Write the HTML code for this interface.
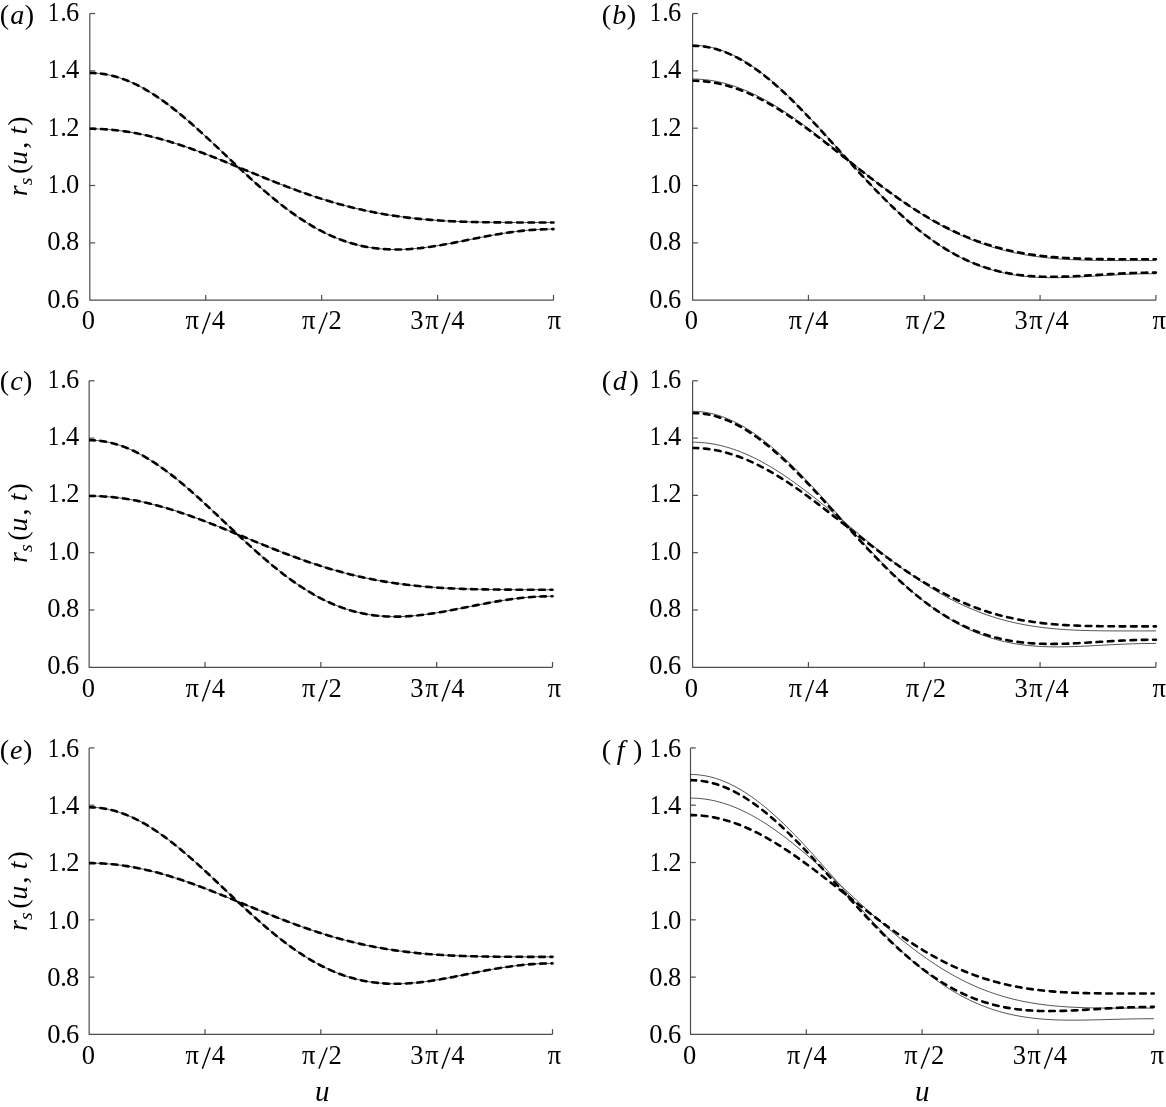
<!DOCTYPE html>
<html><head><meta charset="utf-8"><style>
html,body{margin:0;padding:0;background:#fff;overflow:hidden;}
svg{display:block;will-change:transform;}
text{font-family:"Liberation Serif",serif;fill:#000;}
</style></head><body>
<svg width="1166" height="1107" viewBox="0 0 1166 1107">
<rect width="1166" height="1107" fill="#fff"/>
<path d="M89.8,13.5 V300.2 H553.5" fill="none" stroke="#4d4d4d" stroke-width="1.2" stroke-linejoin="round"/>
<path d="M89.8,13.50 h5.3" stroke="#4d4d4d" stroke-width="1.2"/>
<path d="M89.8,70.84 h5.3" stroke="#4d4d4d" stroke-width="1.2"/>
<path d="M89.8,128.18 h5.3" stroke="#4d4d4d" stroke-width="1.2"/>
<path d="M89.8,185.52 h5.3" stroke="#4d4d4d" stroke-width="1.2"/>
<path d="M89.8,242.86 h5.3" stroke="#4d4d4d" stroke-width="1.2"/>
<path d="M205.72,300.2 v-5.3" stroke="#4d4d4d" stroke-width="1.2"/>
<path d="M321.65,300.2 v-5.3" stroke="#4d4d4d" stroke-width="1.2"/>
<path d="M437.57,300.2 v-5.3" stroke="#4d4d4d" stroke-width="1.2"/>
<path d="M553.50,300.2 v-5.3" stroke="#4d4d4d" stroke-width="1.2"/>
<text x="46.95" y="21.10" font-size="26.5" transform="translate(53.95,0) scale(0.84,1) translate(-53.95,0)">1</text>
<text x="60.19" y="21.10" font-size="26.5">.</text>
<text x="65.95" y="21.10" font-size="26.5">6</text>
<text x="46.95" y="78.44" font-size="26.5" transform="translate(53.95,0) scale(0.84,1) translate(-53.95,0)">1</text>
<text x="60.19" y="78.44" font-size="26.5">.</text>
<text x="66.07" y="78.44" font-size="26.5">4</text>
<text x="46.95" y="135.78" font-size="26.5" transform="translate(53.95,0) scale(0.84,1) translate(-53.95,0)">1</text>
<text x="60.19" y="135.78" font-size="26.5">.</text>
<text x="66.27" y="135.78" font-size="26.5">2</text>
<text x="46.95" y="193.12" font-size="26.5" transform="translate(53.95,0) scale(0.84,1) translate(-53.95,0)">1</text>
<text x="60.19" y="193.12" font-size="26.5">.</text>
<text x="66.12" y="193.12" font-size="26.5">0</text>
<text x="47.33" y="250.46" font-size="26.5">0</text>
<text x="60.19" y="250.46" font-size="26.5">.</text>
<text x="66.12" y="250.46" font-size="26.5">8</text>
<text x="47.33" y="307.80" font-size="26.5">0</text>
<text x="60.19" y="307.80" font-size="26.5">.</text>
<text x="65.95" y="307.80" font-size="26.5">6</text>
<text x="81.67" y="329.30" font-size="26.5">0</text>
<text x="185.52" y="329.30" font-size="26.5">π</text>
<path d="M202.35,333.75 L210.15,312.45" stroke="#000" stroke-width="1.45" fill="none"/>
<text x="211.82" y="329.30" font-size="26.5">4</text>
<text x="302.07" y="329.30" font-size="26.5">π</text>
<path d="M318.85,333.75 L327.15,312.45" stroke="#000" stroke-width="1.45" fill="none"/>
<text x="328.62" y="329.30" font-size="26.5">2</text>
<text x="410.26" y="329.30" font-size="26.5">3</text>
<text x="425.17" y="329.30" font-size="26.5">π</text>
<path d="M441.95,333.75 L449.95,312.45" stroke="#000" stroke-width="1.45" fill="none"/>
<text x="451.27" y="329.30" font-size="26.5">4</text>
<text x="547.82" y="329.30" font-size="26.5">π</text>
<text x="-0.24" y="23.8" font-size="28.1">(</text>
<text x="10.14" y="23.80" font-size="28.1" font-style="italic">a</text>
<text x="24.70" y="23.8" font-size="28.1">)</text>
<clipPath id="c1"><rect x="89.80" y="3.50" width="467.70" height="306.70"/></clipPath><g clip-path="url(#c1)">
<path d="M89.80,72.91 92.72,72.96 95.63,73.10 98.55,73.34 101.47,73.67 104.38,74.09 107.30,74.61 110.21,75.22 113.13,75.92 116.05,76.71 118.96,77.59 121.88,78.56 124.80,79.62 127.71,80.76 130.63,81.99 133.55,83.31 136.46,84.70 139.38,86.18 142.29,87.73 145.21,89.36 148.13,91.07 151.04,92.85 153.96,94.70 156.88,96.61 159.79,98.60 162.71,100.64 165.63,102.75 168.54,104.92 171.46,107.14 174.37,109.42 177.29,111.75 180.21,114.12 183.12,116.54 186.04,119.01 188.96,121.51 191.87,124.05 194.79,126.63 197.71,129.24 200.62,131.87 203.54,134.53 206.45,137.22 209.37,139.92 212.29,142.64 215.20,145.37 218.12,148.12 221.04,150.87 223.95,153.62 226.87,156.38 229.78,159.14 232.70,161.89 235.62,164.64 238.53,167.38 241.45,170.10 244.37,172.81 247.28,175.50 250.20,178.17 253.12,180.82 256.03,183.44 258.95,186.04 261.86,188.60 264.78,191.13 267.70,193.63 270.61,196.09 273.53,198.51 276.45,200.88 279.36,203.22 282.28,205.51 285.20,207.75 288.11,209.94 291.03,212.09 293.94,214.18 296.86,216.22 299.78,218.20 302.69,220.12 305.61,221.99 308.53,223.80 311.44,225.56 314.36,227.25 317.28,228.88 320.19,230.45 323.11,231.95 326.02,233.40 328.94,234.78 331.86,236.09 334.77,237.35 337.69,238.53 340.61,239.66 343.52,240.72 346.44,241.72 349.36,242.65 352.27,243.52 355.19,244.33 358.10,245.08 361.02,245.76 363.94,246.39 366.85,246.95 369.77,247.46 372.69,247.90 375.60,248.29 378.52,248.63 381.44,248.91 384.35,249.13 387.27,249.30 390.18,249.43 393.10,249.50 396.02,249.53 398.93,249.50 401.85,249.44 404.77,249.33 407.68,249.18 410.60,248.99 413.52,248.76 416.43,248.49 419.35,248.19 422.26,247.86 425.18,247.50 428.10,247.11 431.01,246.69 433.93,246.25 436.85,245.79 439.76,245.30 442.68,244.80 445.59,244.27 448.51,243.74 451.43,243.19 454.34,242.63 457.26,242.06 460.18,241.49 463.09,240.91 466.01,240.32 468.93,239.74 471.84,239.15 474.76,238.57 477.67,237.99 480.59,237.42 483.51,236.86 486.42,236.30 489.34,235.76 492.26,235.23 495.17,234.71 498.09,234.21 501.01,233.72 503.92,233.25 506.84,232.81 509.75,232.38 512.67,231.98 515.59,231.59 518.50,231.24 521.42,230.90 524.34,230.60 527.25,230.32 530.17,230.06 533.09,229.84 536.00,229.64 538.92,229.48 541.83,229.34 544.75,229.23 547.67,229.16 550.58,229.11 553.50,229.10" fill="none" stroke="#333" stroke-width="0.85"/>
<path d="M89.80,128.76 92.72,128.78 95.63,128.84 98.55,128.93 101.47,129.05 104.38,129.22 107.30,129.42 110.21,129.65 113.13,129.92 116.05,130.23 118.96,130.57 121.88,130.95 124.80,131.36 127.71,131.80 130.63,132.28 133.55,132.79 136.46,133.33 139.38,133.91 142.29,134.51 145.21,135.15 148.13,135.82 151.04,136.52 153.96,137.24 156.88,138.00 159.79,138.78 162.71,139.59 165.63,140.43 168.54,141.29 171.46,142.17 174.37,143.08 177.29,144.01 180.21,144.96 183.12,145.94 186.04,146.93 188.96,147.95 191.87,148.98 194.79,150.03 197.71,151.10 200.62,152.18 203.54,153.28 206.45,154.39 209.37,155.51 212.29,156.64 215.20,157.79 218.12,158.94 221.04,160.11 223.95,161.28 226.87,162.46 229.78,163.64 232.70,164.83 235.62,166.02 238.53,167.22 241.45,168.42 244.37,169.61 247.28,170.81 250.20,172.01 253.12,173.21 256.03,174.40 258.95,175.59 261.86,176.77 264.78,177.95 267.70,179.13 270.61,180.29 273.53,181.45 276.45,182.60 279.36,183.75 282.28,184.88 285.20,186.00 288.11,187.11 291.03,188.20 293.94,189.29 296.86,190.36 299.78,191.41 302.69,192.45 305.61,193.48 308.53,194.49 311.44,195.49 314.36,196.46 317.28,197.43 320.19,198.37 323.11,199.29 326.02,200.20 328.94,201.09 331.86,201.96 334.77,202.81 337.69,203.64 340.61,204.45 343.52,205.24 346.44,206.02 349.36,206.77 352.27,207.50 355.19,208.21 358.10,208.90 361.02,209.57 363.94,210.22 366.85,210.85 369.77,211.46 372.69,212.05 375.60,212.62 378.52,213.17 381.44,213.70 384.35,214.21 387.27,214.70 390.18,215.17 393.10,215.62 396.02,216.05 398.93,216.47 401.85,216.86 404.77,217.24 407.68,217.60 410.60,217.95 413.52,218.28 416.43,218.59 419.35,218.88 422.26,219.16 425.18,219.42 428.10,219.67 431.01,219.91 433.93,220.13 436.85,220.34 439.76,220.53 442.68,220.71 445.59,220.88 448.51,221.04 451.43,221.19 454.34,221.33 457.26,221.45 460.18,221.57 463.09,221.68 466.01,221.77 468.93,221.86 471.84,221.95 474.76,222.02 477.67,222.09 480.59,222.15 483.51,222.21 486.42,222.25 489.34,222.30 492.26,222.34 495.17,222.37 498.09,222.40 501.01,222.43 503.92,222.45 506.84,222.47 509.75,222.49 512.67,222.50 515.59,222.51 518.50,222.52 521.42,222.53 524.34,222.54 527.25,222.54 530.17,222.55 533.09,222.55 536.00,222.55 538.92,222.56 541.83,222.56 544.75,222.56 547.67,222.56 550.58,222.56 553.50,222.56" fill="none" stroke="#333" stroke-width="0.85"/>
<path d="M89.80,72.91 92.72,72.96 95.63,73.10 98.55,73.34 101.47,73.67 104.38,74.09 107.30,74.61 110.21,75.22 113.13,75.92 116.05,76.71 118.96,77.59 121.88,78.56 124.80,79.62 127.71,80.76 130.63,81.99 133.55,83.31 136.46,84.70 139.38,86.18 142.29,87.73 145.21,89.36 148.13,91.07 151.04,92.85 153.96,94.70 156.88,96.61 159.79,98.60 162.71,100.64 165.63,102.75 168.54,104.92 171.46,107.14 174.37,109.42 177.29,111.75 180.21,114.12 183.12,116.54 186.04,119.01 188.96,121.51 191.87,124.05 194.79,126.63 197.71,129.24 200.62,131.87 203.54,134.53 206.45,137.22 209.37,139.92 212.29,142.64 215.20,145.37 218.12,148.12 221.04,150.87 223.95,153.62 226.87,156.38 229.78,159.14 232.70,161.89 235.62,164.64 238.53,167.38 241.45,170.10 244.37,172.81 247.28,175.50 250.20,178.17 253.12,180.82 256.03,183.44 258.95,186.04 261.86,188.60 264.78,191.13 267.70,193.63 270.61,196.09 273.53,198.51 276.45,200.88 279.36,203.22 282.28,205.51 285.20,207.75 288.11,209.94 291.03,212.09 293.94,214.18 296.86,216.22 299.78,218.20 302.69,220.12 305.61,221.99 308.53,223.80 311.44,225.56 314.36,227.25 317.28,228.88 320.19,230.45 323.11,231.95 326.02,233.40 328.94,234.78 331.86,236.09 334.77,237.35 337.69,238.53 340.61,239.66 343.52,240.72 346.44,241.72 349.36,242.65 352.27,243.52 355.19,244.33 358.10,245.08 361.02,245.76 363.94,246.39 366.85,246.95 369.77,247.46 372.69,247.90 375.60,248.29 378.52,248.63 381.44,248.91 384.35,249.13 387.27,249.30 390.18,249.43 393.10,249.50 396.02,249.53 398.93,249.50 401.85,249.44 404.77,249.33 407.68,249.18 410.60,248.99 413.52,248.76 416.43,248.49 419.35,248.19 422.26,247.86 425.18,247.50 428.10,247.11 431.01,246.69 433.93,246.25 436.85,245.79 439.76,245.30 442.68,244.80 445.59,244.27 448.51,243.74 451.43,243.19 454.34,242.63 457.26,242.06 460.18,241.49 463.09,240.91 466.01,240.32 468.93,239.74 471.84,239.15 474.76,238.57 477.67,237.99 480.59,237.42 483.51,236.86 486.42,236.30 489.34,235.76 492.26,235.23 495.17,234.71 498.09,234.21 501.01,233.72 503.92,233.25 506.84,232.81 509.75,232.38 512.67,231.98 515.59,231.59 518.50,231.24 521.42,230.90 524.34,230.60 527.25,230.32 530.17,230.06 533.09,229.84 536.00,229.64 538.92,229.48 541.83,229.34 544.75,229.23 547.67,229.16 550.58,229.11 553.50,229.10" fill="none" stroke="#000" stroke-width="2.6" stroke-dasharray="5.6 5.72" stroke-linecap="round"/>
<path d="M89.80,128.76 92.72,128.78 95.63,128.84 98.55,128.93 101.47,129.05 104.38,129.22 107.30,129.42 110.21,129.65 113.13,129.92 116.05,130.23 118.96,130.57 121.88,130.95 124.80,131.36 127.71,131.80 130.63,132.28 133.55,132.79 136.46,133.33 139.38,133.91 142.29,134.51 145.21,135.15 148.13,135.82 151.04,136.52 153.96,137.24 156.88,138.00 159.79,138.78 162.71,139.59 165.63,140.43 168.54,141.29 171.46,142.17 174.37,143.08 177.29,144.01 180.21,144.96 183.12,145.94 186.04,146.93 188.96,147.95 191.87,148.98 194.79,150.03 197.71,151.10 200.62,152.18 203.54,153.28 206.45,154.39 209.37,155.51 212.29,156.64 215.20,157.79 218.12,158.94 221.04,160.11 223.95,161.28 226.87,162.46 229.78,163.64 232.70,164.83 235.62,166.02 238.53,167.22 241.45,168.42 244.37,169.61 247.28,170.81 250.20,172.01 253.12,173.21 256.03,174.40 258.95,175.59 261.86,176.77 264.78,177.95 267.70,179.13 270.61,180.29 273.53,181.45 276.45,182.60 279.36,183.75 282.28,184.88 285.20,186.00 288.11,187.11 291.03,188.20 293.94,189.29 296.86,190.36 299.78,191.41 302.69,192.45 305.61,193.48 308.53,194.49 311.44,195.49 314.36,196.46 317.28,197.43 320.19,198.37 323.11,199.29 326.02,200.20 328.94,201.09 331.86,201.96 334.77,202.81 337.69,203.64 340.61,204.45 343.52,205.24 346.44,206.02 349.36,206.77 352.27,207.50 355.19,208.21 358.10,208.90 361.02,209.57 363.94,210.22 366.85,210.85 369.77,211.46 372.69,212.05 375.60,212.62 378.52,213.17 381.44,213.70 384.35,214.21 387.27,214.70 390.18,215.17 393.10,215.62 396.02,216.05 398.93,216.47 401.85,216.86 404.77,217.24 407.68,217.60 410.60,217.95 413.52,218.28 416.43,218.59 419.35,218.88 422.26,219.16 425.18,219.42 428.10,219.67 431.01,219.91 433.93,220.13 436.85,220.34 439.76,220.53 442.68,220.71 445.59,220.88 448.51,221.04 451.43,221.19 454.34,221.33 457.26,221.45 460.18,221.57 463.09,221.68 466.01,221.77 468.93,221.86 471.84,221.95 474.76,222.02 477.67,222.09 480.59,222.15 483.51,222.21 486.42,222.25 489.34,222.30 492.26,222.34 495.17,222.37 498.09,222.40 501.01,222.43 503.92,222.45 506.84,222.47 509.75,222.49 512.67,222.50 515.59,222.51 518.50,222.52 521.42,222.53 524.34,222.54 527.25,222.54 530.17,222.55 533.09,222.55 536.00,222.55 538.92,222.56 541.83,222.56 544.75,222.56 547.67,222.56 550.58,222.56 553.50,222.56" fill="none" stroke="#000" stroke-width="2.6" stroke-dasharray="5.6 5.72" stroke-linecap="round"/>
</g>
<path d="M692.6,13.5 V300.2 H1155.9" fill="none" stroke="#4d4d4d" stroke-width="1.2" stroke-linejoin="round"/>
<path d="M692.6,13.50 h5.3" stroke="#4d4d4d" stroke-width="1.2"/>
<path d="M692.6,70.84 h5.3" stroke="#4d4d4d" stroke-width="1.2"/>
<path d="M692.6,128.18 h5.3" stroke="#4d4d4d" stroke-width="1.2"/>
<path d="M692.6,185.52 h5.3" stroke="#4d4d4d" stroke-width="1.2"/>
<path d="M692.6,242.86 h5.3" stroke="#4d4d4d" stroke-width="1.2"/>
<path d="M808.43,300.2 v-5.3" stroke="#4d4d4d" stroke-width="1.2"/>
<path d="M924.25,300.2 v-5.3" stroke="#4d4d4d" stroke-width="1.2"/>
<path d="M1040.08,300.2 v-5.3" stroke="#4d4d4d" stroke-width="1.2"/>
<path d="M1155.90,300.2 v-5.3" stroke="#4d4d4d" stroke-width="1.2"/>
<text x="648.95" y="21.10" font-size="26.5" transform="translate(655.95,0) scale(0.84,1) translate(-655.95,0)">1</text>
<text x="662.19" y="21.10" font-size="26.5">.</text>
<text x="667.95" y="21.10" font-size="26.5">6</text>
<text x="648.95" y="78.44" font-size="26.5" transform="translate(655.95,0) scale(0.84,1) translate(-655.95,0)">1</text>
<text x="662.19" y="78.44" font-size="26.5">.</text>
<text x="668.07" y="78.44" font-size="26.5">4</text>
<text x="648.95" y="135.78" font-size="26.5" transform="translate(655.95,0) scale(0.84,1) translate(-655.95,0)">1</text>
<text x="662.19" y="135.78" font-size="26.5">.</text>
<text x="668.27" y="135.78" font-size="26.5">2</text>
<text x="648.95" y="193.12" font-size="26.5" transform="translate(655.95,0) scale(0.84,1) translate(-655.95,0)">1</text>
<text x="662.19" y="193.12" font-size="26.5">.</text>
<text x="668.12" y="193.12" font-size="26.5">0</text>
<text x="649.33" y="250.46" font-size="26.5">0</text>
<text x="662.19" y="250.46" font-size="26.5">.</text>
<text x="668.12" y="250.46" font-size="26.5">8</text>
<text x="649.33" y="307.80" font-size="26.5">0</text>
<text x="662.19" y="307.80" font-size="26.5">.</text>
<text x="667.95" y="307.80" font-size="26.5">6</text>
<text x="684.77" y="329.30" font-size="26.5">0</text>
<text x="788.87" y="329.30" font-size="26.5">π</text>
<path d="M805.70,333.75 L813.50,312.45" stroke="#000" stroke-width="1.45" fill="none"/>
<text x="815.17" y="329.30" font-size="26.5">4</text>
<text x="906.12" y="329.30" font-size="26.5">π</text>
<path d="M922.90,333.75 L931.20,312.45" stroke="#000" stroke-width="1.45" fill="none"/>
<text x="932.67" y="329.30" font-size="26.5">2</text>
<text x="1014.46" y="329.30" font-size="26.5">3</text>
<text x="1029.37" y="329.30" font-size="26.5">π</text>
<path d="M1046.15,333.75 L1054.15,312.45" stroke="#000" stroke-width="1.45" fill="none"/>
<text x="1055.47" y="329.30" font-size="26.5">4</text>
<text x="1152.62" y="329.30" font-size="26.5">π</text>
<text x="601.66" y="23.8" font-size="28.1">(</text>
<text x="612.18" y="23.80" font-size="28.1" font-style="italic">b</text>
<text x="626.70" y="23.8" font-size="28.1">)</text>
<clipPath id="c2"><rect x="692.60" y="3.50" width="467.30" height="306.70"/></clipPath><g clip-path="url(#c2)">
<path d="M692.60,45.27 695.51,45.32 698.43,45.47 701.34,45.73 704.26,46.09 707.17,46.56 710.08,47.12 713.00,47.79 715.91,48.56 718.82,49.43 721.74,50.40 724.65,51.46 727.57,52.62 730.48,53.88 733.39,55.23 736.31,56.68 739.22,58.22 742.14,59.84 745.05,61.56 747.96,63.36 750.88,65.24 753.79,67.21 756.70,69.26 759.62,71.38 762.53,73.59 765.45,75.86 768.36,78.21 771.27,80.62 774.19,83.11 777.10,85.65 780.02,88.26 782.93,90.93 785.84,93.65 788.76,96.43 791.67,99.25 794.58,102.13 797.50,105.05 800.41,108.01 803.33,111.01 806.24,114.05 809.15,117.12 812.07,120.22 814.98,123.35 817.89,126.50 820.81,129.67 823.72,132.86 826.64,136.07 829.55,139.29 832.46,142.52 835.38,145.76 838.29,149.00 841.21,152.24 844.12,155.48 847.03,158.71 849.95,161.94 852.86,165.16 855.77,168.36 858.69,171.55 861.60,174.72 864.52,177.87 867.43,181.00 870.34,184.10 873.26,187.17 876.17,190.21 879.09,193.22 882.00,196.20 884.91,199.14 887.83,202.04 890.74,204.89 893.65,207.71 896.57,210.48 899.48,213.20 902.40,215.88 905.31,218.51 908.22,221.08 911.14,223.61 914.05,226.08 916.97,228.49 919.88,230.85 922.79,233.15 925.71,235.40 928.62,237.58 931.53,239.71 934.45,241.77 937.36,243.78 940.28,245.72 943.19,247.60 946.10,249.42 949.02,251.18 951.93,252.88 954.85,254.51 957.76,256.08 960.67,257.59 963.59,259.04 966.50,260.42 969.41,261.74 972.33,263.01 975.24,264.21 978.16,265.35 981.07,266.44 983.98,267.47 986.90,268.43 989.81,269.35 992.73,270.20 995.64,271.01 998.55,271.76 1001.47,272.45 1004.38,273.10 1007.29,273.70 1010.21,274.25 1013.12,274.75 1016.04,275.21 1018.95,275.62 1021.86,275.99 1024.78,276.32 1027.69,276.60 1030.61,276.86 1033.52,277.07 1036.43,277.25 1039.35,277.40 1042.26,277.51 1045.17,277.60 1048.09,277.65 1051.00,277.68 1053.92,277.69 1056.83,277.67 1059.74,277.63 1062.66,277.57 1065.57,277.50 1068.48,277.40 1071.40,277.30 1074.31,277.17 1077.23,277.04 1080.14,276.90 1083.05,276.75 1085.97,276.59 1088.88,276.42 1091.80,276.25 1094.71,276.08 1097.62,275.91 1100.54,275.74 1103.45,275.56 1106.36,275.39 1109.28,275.23 1112.19,275.06 1115.11,274.91 1118.02,274.76 1120.93,274.61 1123.85,274.48 1126.76,274.35 1129.68,274.24 1132.59,274.13 1135.50,274.04 1138.42,273.95 1141.33,273.88 1144.24,273.82 1147.16,273.78 1150.07,273.74 1152.99,273.72 1155.90,273.72" fill="none" stroke="#333" stroke-width="0.85"/>
<path d="M692.60,79.02 695.51,79.06 698.43,79.16 701.34,79.34 704.26,79.59 707.17,79.91 710.08,80.30 713.00,80.76 715.91,81.28 718.82,81.88 721.74,82.55 724.65,83.28 727.57,84.08 730.48,84.94 733.39,85.88 736.31,86.87 739.22,87.93 742.14,89.05 745.05,90.24 747.96,91.48 750.88,92.78 753.79,94.14 756.70,95.56 759.62,97.03 762.53,98.56 765.45,100.13 768.36,101.76 771.27,103.44 774.19,105.17 777.10,106.94 780.02,108.76 782.93,110.62 785.84,112.52 788.76,114.46 791.67,116.44 794.58,118.45 797.50,120.50 800.41,122.58 803.33,124.69 806.24,126.83 809.15,129.00 812.07,131.19 814.98,133.41 817.89,135.64 820.81,137.90 823.72,140.17 826.64,142.45 829.55,144.75 832.46,147.06 835.38,149.38 838.29,151.71 841.21,154.05 844.12,156.38 847.03,158.72 849.95,161.06 852.86,163.40 855.77,165.73 858.69,168.06 861.60,170.38 864.52,172.70 867.43,175.00 870.34,177.29 873.26,179.56 876.17,181.83 879.09,184.07 882.00,186.29 884.91,188.50 887.83,190.68 890.74,192.85 893.65,194.98 896.57,197.10 899.48,199.18 902.40,201.24 905.31,203.27 908.22,205.27 911.14,207.24 914.05,209.17 916.97,211.07 919.88,212.94 922.79,214.78 925.71,216.58 928.62,218.34 931.53,220.07 934.45,221.75 937.36,223.41 940.28,225.02 943.19,226.59 946.10,228.12 949.02,229.62 951.93,231.07 954.85,232.49 957.76,233.86 960.67,235.20 963.59,236.49 966.50,237.74 969.41,238.95 972.33,240.13 975.24,241.26 978.16,242.35 981.07,243.41 983.98,244.42 986.90,245.40 989.81,246.33 992.73,247.23 995.64,248.09 998.55,248.92 1001.47,249.70 1004.38,250.45 1007.29,251.17 1010.21,251.85 1013.12,252.50 1016.04,253.11 1018.95,253.70 1021.86,254.25 1024.78,254.77 1027.69,255.26 1030.61,255.72 1033.52,256.15 1036.43,256.56 1039.35,256.94 1042.26,257.29 1045.17,257.62 1048.09,257.93 1051.00,258.21 1053.92,258.47 1056.83,258.71 1059.74,258.93 1062.66,259.13 1065.57,259.32 1068.48,259.48 1071.40,259.63 1074.31,259.77 1077.23,259.89 1080.14,260.00 1083.05,260.10 1085.97,260.18 1088.88,260.25 1091.80,260.32 1094.71,260.37 1097.62,260.42 1100.54,260.46 1103.45,260.49 1106.36,260.52 1109.28,260.54 1112.19,260.56 1115.11,260.57 1118.02,260.58 1120.93,260.59 1123.85,260.59 1126.76,260.59 1129.68,260.59 1132.59,260.59 1135.50,260.59 1138.42,260.59 1141.33,260.59 1144.24,260.59 1147.16,260.58 1150.07,260.58 1152.99,260.58 1155.90,260.58" fill="none" stroke="#333" stroke-width="0.85"/>
<path d="M692.60,45.77 695.51,45.83 698.43,45.98 701.34,46.24 704.26,46.60 707.17,47.07 710.08,47.63 713.00,48.30 715.91,49.07 718.82,49.94 721.74,50.91 724.65,51.98 727.57,53.14 730.48,54.40 733.39,55.76 736.31,57.20 739.22,58.74 742.14,60.37 745.05,62.08 747.96,63.89 750.88,65.77 753.79,67.74 756.70,69.79 759.62,71.92 762.53,74.12 765.45,76.40 768.36,78.75 771.27,81.17 774.19,83.65 777.10,86.20 780.02,88.80 782.93,91.47 785.84,94.19 788.76,96.97 791.67,99.80 794.58,102.67 797.50,105.59 800.41,108.55 803.33,111.55 806.24,114.58 809.15,117.65 812.07,120.74 814.98,123.87 817.89,127.02 820.81,130.19 823.72,133.37 826.64,136.58 829.55,139.79 832.46,143.01 835.38,146.24 838.29,149.48 841.21,152.71 844.12,155.94 847.03,159.17 849.95,162.38 852.86,165.59 855.77,168.78 858.69,171.96 861.60,175.12 864.52,178.26 867.43,181.37 870.34,184.46 873.26,187.51 876.17,190.54 879.09,193.54 882.00,196.50 884.91,199.42 887.83,202.30 890.74,205.14 893.65,207.94 896.57,210.69 899.48,213.40 902.40,216.05 905.31,218.66 908.22,221.22 911.14,223.72 914.05,226.17 916.97,228.57 919.88,230.90 922.79,233.18 925.71,235.41 928.62,237.57 931.53,239.67 934.45,241.72 937.36,243.70 940.28,245.62 943.19,247.48 946.10,249.28 949.02,251.01 951.93,252.68 954.85,254.29 957.76,255.84 960.67,257.33 963.59,258.75 966.50,260.11 969.41,261.42 972.33,262.66 975.24,263.84 978.16,264.96 981.07,266.02 983.98,267.02 986.90,267.97 989.81,268.86 992.73,269.70 995.64,270.48 998.55,271.21 1001.47,271.88 1004.38,272.51 1007.29,273.09 1010.21,273.62 1013.12,274.10 1016.04,274.54 1018.95,274.93 1021.86,275.28 1024.78,275.59 1027.69,275.86 1030.61,276.10 1033.52,276.29 1036.43,276.46 1039.35,276.59 1042.26,276.69 1045.17,276.76 1048.09,276.80 1051.00,276.82 1053.92,276.81 1056.83,276.78 1059.74,276.72 1062.66,276.65 1065.57,276.56 1068.48,276.46 1071.40,276.34 1074.31,276.21 1077.23,276.06 1080.14,275.91 1083.05,275.75 1085.97,275.58 1088.88,275.41 1091.80,275.23 1094.71,275.05 1097.62,274.87 1100.54,274.69 1103.45,274.51 1106.36,274.33 1109.28,274.16 1112.19,273.99 1115.11,273.83 1118.02,273.67 1120.93,273.53 1123.85,273.39 1126.76,273.26 1129.68,273.14 1132.59,273.03 1135.50,272.93 1138.42,272.85 1141.33,272.77 1144.24,272.71 1147.16,272.67 1150.07,272.63 1152.99,272.61 1155.90,272.60" fill="none" stroke="#000" stroke-width="2.6" stroke-dasharray="5.6 5.72" stroke-linecap="round"/>
<path d="M692.60,80.77 695.51,80.80 698.43,80.91 701.34,81.08 704.26,81.33 707.17,81.65 710.08,82.03 713.00,82.48 715.91,83.01 718.82,83.60 721.74,84.26 724.65,84.98 727.57,85.77 730.48,86.63 733.39,87.55 736.31,88.53 739.22,89.58 742.14,90.69 745.05,91.86 747.96,93.09 750.88,94.38 753.79,95.72 756.70,97.12 759.62,98.58 762.53,100.09 765.45,101.65 768.36,103.26 771.27,104.92 774.19,106.62 777.10,108.37 780.02,110.17 782.93,112.00 785.84,113.88 788.76,115.80 791.67,117.75 794.58,119.74 797.50,121.76 800.41,123.82 803.33,125.90 806.24,128.01 809.15,130.15 812.07,132.31 814.98,134.49 817.89,136.70 820.81,138.92 823.72,141.16 826.64,143.41 829.55,145.68 832.46,147.95 835.38,150.24 838.29,152.53 841.21,154.83 844.12,157.13 847.03,159.43 849.95,161.73 852.86,164.03 855.77,166.33 858.69,168.62 861.60,170.90 864.52,173.18 867.43,175.44 870.34,177.69 873.26,179.93 876.17,182.15 879.09,184.35 882.00,186.54 884.91,188.70 887.83,190.85 890.74,192.97 893.65,195.07 896.57,197.14 899.48,199.19 902.40,201.20 905.31,203.19 908.22,205.15 911.14,207.08 914.05,208.98 916.97,210.84 919.88,212.67 922.79,214.47 925.71,216.23 928.62,217.96 931.53,219.64 934.45,221.30 937.36,222.91 940.28,224.49 943.19,226.03 946.10,227.53 949.02,228.99 951.93,230.41 954.85,231.79 957.76,233.13 960.67,234.44 963.59,235.70 966.50,236.92 969.41,238.11 972.33,239.25 975.24,240.36 978.16,241.42 981.07,242.45 983.98,243.44 986.90,244.39 989.81,245.31 992.73,246.18 995.64,247.02 998.55,247.82 1001.47,248.59 1004.38,249.33 1007.29,250.02 1010.21,250.69 1013.12,251.32 1016.04,251.92 1018.95,252.49 1021.86,253.02 1024.78,253.53 1027.69,254.01 1030.61,254.46 1033.52,254.88 1036.43,255.27 1039.35,255.64 1042.26,255.99 1045.17,256.31 1048.09,256.61 1051.00,256.88 1053.92,257.14 1056.83,257.37 1059.74,257.59 1062.66,257.78 1065.57,257.96 1068.48,258.12 1071.40,258.27 1074.31,258.40 1077.23,258.52 1080.14,258.63 1083.05,258.72 1085.97,258.81 1088.88,258.88 1091.80,258.94 1094.71,259.00 1097.62,259.04 1100.54,259.08 1103.45,259.12 1106.36,259.14 1109.28,259.16 1112.19,259.18 1115.11,259.19 1118.02,259.20 1120.93,259.21 1123.85,259.21 1126.76,259.22 1129.68,259.22 1132.59,259.22 1135.50,259.22 1138.42,259.21 1141.33,259.21 1144.24,259.21 1147.16,259.21 1150.07,259.21 1152.99,259.21 1155.90,259.21" fill="none" stroke="#000" stroke-width="2.6" stroke-dasharray="5.6 5.72" stroke-linecap="round"/>
</g>
<path d="M89.15,380.8 V667.3 H552.5" fill="none" stroke="#4d4d4d" stroke-width="1.2" stroke-linejoin="round"/>
<path d="M89.15,380.80 h5.3" stroke="#4d4d4d" stroke-width="1.2"/>
<path d="M89.15,438.10 h5.3" stroke="#4d4d4d" stroke-width="1.2"/>
<path d="M89.15,495.40 h5.3" stroke="#4d4d4d" stroke-width="1.2"/>
<path d="M89.15,552.70 h5.3" stroke="#4d4d4d" stroke-width="1.2"/>
<path d="M89.15,610.00 h5.3" stroke="#4d4d4d" stroke-width="1.2"/>
<path d="M204.99,667.3 v-5.3" stroke="#4d4d4d" stroke-width="1.2"/>
<path d="M320.83,667.3 v-5.3" stroke="#4d4d4d" stroke-width="1.2"/>
<path d="M436.66,667.3 v-5.3" stroke="#4d4d4d" stroke-width="1.2"/>
<path d="M552.50,667.3 v-5.3" stroke="#4d4d4d" stroke-width="1.2"/>
<text x="46.95" y="387.75" font-size="26.5" transform="translate(53.95,0) scale(0.84,1) translate(-53.95,0)">1</text>
<text x="60.19" y="387.75" font-size="26.5">.</text>
<text x="65.95" y="387.75" font-size="26.5">6</text>
<text x="46.95" y="445.05" font-size="26.5" transform="translate(53.95,0) scale(0.84,1) translate(-53.95,0)">1</text>
<text x="60.19" y="445.05" font-size="26.5">.</text>
<text x="66.07" y="445.05" font-size="26.5">4</text>
<text x="46.95" y="502.35" font-size="26.5" transform="translate(53.95,0) scale(0.84,1) translate(-53.95,0)">1</text>
<text x="60.19" y="502.35" font-size="26.5">.</text>
<text x="66.27" y="502.35" font-size="26.5">2</text>
<text x="46.95" y="559.65" font-size="26.5" transform="translate(53.95,0) scale(0.84,1) translate(-53.95,0)">1</text>
<text x="60.19" y="559.65" font-size="26.5">.</text>
<text x="66.12" y="559.65" font-size="26.5">0</text>
<text x="47.33" y="616.95" font-size="26.5">0</text>
<text x="60.19" y="616.95" font-size="26.5">.</text>
<text x="66.12" y="616.95" font-size="26.5">8</text>
<text x="47.33" y="674.25" font-size="26.5">0</text>
<text x="60.19" y="674.25" font-size="26.5">.</text>
<text x="65.95" y="674.25" font-size="26.5">6</text>
<text x="81.67" y="696.95" font-size="26.5">0</text>
<text x="185.52" y="696.95" font-size="26.5">π</text>
<path d="M202.35,701.40 L210.15,680.10" stroke="#000" stroke-width="1.45" fill="none"/>
<text x="211.82" y="696.95" font-size="26.5">4</text>
<text x="302.07" y="696.95" font-size="26.5">π</text>
<path d="M318.85,701.40 L327.15,680.10" stroke="#000" stroke-width="1.45" fill="none"/>
<text x="328.62" y="696.95" font-size="26.5">2</text>
<text x="410.26" y="696.95" font-size="26.5">3</text>
<text x="425.17" y="696.95" font-size="26.5">π</text>
<path d="M441.95,701.40 L449.95,680.10" stroke="#000" stroke-width="1.45" fill="none"/>
<text x="451.27" y="696.95" font-size="26.5">4</text>
<text x="547.82" y="696.95" font-size="26.5">π</text>
<text x="-0.24" y="389.8" font-size="28.1">(</text>
<text x="10.18" y="389.80" font-size="28.1" font-style="italic">c</text>
<text x="22.90" y="389.8" font-size="28.1">)</text>
<clipPath id="c3"><rect x="89.15" y="370.80" width="467.35" height="306.50"/></clipPath><g clip-path="url(#c3)">
<path d="M89.15,440.17 92.06,440.22 94.98,440.36 97.89,440.59 100.81,440.92 103.72,441.35 106.63,441.86 109.55,442.47 112.46,443.17 115.38,443.96 118.29,444.85 121.21,445.82 124.12,446.87 127.03,448.02 129.95,449.25 132.86,450.56 135.78,451.95 138.69,453.43 141.60,454.98 144.52,456.61 147.43,458.32 150.35,460.09 153.26,461.94 156.18,463.86 159.09,465.84 162.00,467.88 164.92,469.99 167.83,472.15 170.75,474.38 173.66,476.65 176.57,478.98 179.49,481.35 182.40,483.77 185.32,486.23 188.23,488.74 191.15,491.28 194.06,493.85 196.97,496.46 199.89,499.09 202.80,501.75 205.72,504.43 208.63,507.13 211.54,509.85 214.46,512.58 217.37,515.32 220.29,518.07 223.20,520.83 226.12,523.58 229.03,526.34 231.94,529.09 234.86,531.83 237.77,534.57 240.69,537.29 243.60,540.00 246.51,542.69 249.43,545.36 252.34,548.00 255.26,550.62 258.17,553.22 261.08,555.78 264.00,558.31 266.91,560.80 269.83,563.26 272.74,565.68 275.66,568.05 278.57,570.39 281.48,572.67 284.40,574.91 287.31,577.11 290.23,579.25 293.14,581.34 296.05,583.37 298.97,585.36 301.88,587.28 304.80,589.15 307.71,590.96 310.63,592.71 313.54,594.40 316.45,596.03 319.37,597.60 322.28,599.10 325.20,600.54 328.11,601.92 331.02,603.24 333.94,604.49 336.85,605.68 339.77,606.80 342.68,607.86 345.60,608.86 348.51,609.79 351.42,610.66 354.34,611.47 357.25,612.22 360.17,612.90 363.08,613.52 365.99,614.09 368.91,614.59 371.82,615.04 374.74,615.43 377.65,615.76 380.57,616.04 383.48,616.27 386.39,616.44 389.31,616.56 392.22,616.64 395.14,616.66 398.05,616.64 400.96,616.57 403.88,616.46 406.79,616.31 409.71,616.12 412.62,615.89 415.53,615.63 418.45,615.33 421.36,615.00 424.28,614.64 427.19,614.25 430.11,613.83 433.02,613.39 435.93,612.92 438.85,612.44 441.76,611.93 444.68,611.41 447.59,610.88 450.50,610.33 453.42,609.77 456.33,609.20 459.25,608.63 462.16,608.05 465.08,607.46 467.99,606.88 470.90,606.30 473.82,605.71 476.73,605.14 479.65,604.56 482.56,604.00 485.47,603.45 488.39,602.90 491.30,602.37 494.22,601.85 497.13,601.35 500.05,600.87 502.96,600.40 505.87,599.95 508.79,599.53 511.70,599.12 514.62,598.74 517.53,598.38 520.44,598.05 523.36,597.75 526.27,597.47 529.19,597.21 532.10,596.99 535.02,596.79 537.93,596.63 540.84,596.49 543.76,596.38 546.67,596.31 549.59,596.26 552.50,596.25" fill="none" stroke="#333" stroke-width="0.85"/>
<path d="M89.15,495.98 92.06,496.00 94.98,496.06 97.89,496.15 100.81,496.27 103.72,496.44 106.63,496.64 109.55,496.87 112.46,497.14 115.38,497.45 118.29,497.79 121.21,498.17 124.12,498.58 127.03,499.02 129.95,499.50 132.86,500.01 135.78,500.55 138.69,501.12 141.60,501.73 144.52,502.37 147.43,503.03 150.35,503.73 153.26,504.46 156.18,505.21 159.09,505.99 162.00,506.80 164.92,507.64 167.83,508.50 170.75,509.38 173.66,510.29 176.57,511.22 179.49,512.17 182.40,513.15 185.32,514.14 188.23,515.15 191.15,516.19 194.06,517.24 196.97,518.30 199.89,519.38 202.80,520.48 205.72,521.59 208.63,522.71 211.54,523.84 214.46,524.99 217.37,526.14 220.29,527.30 223.20,528.48 226.12,529.65 229.03,530.84 231.94,532.02 234.86,533.22 237.77,534.41 240.69,535.61 243.60,536.81 246.51,538.00 249.43,539.20 252.34,540.39 255.26,541.59 258.17,542.78 261.08,543.96 264.00,545.14 266.91,546.31 269.83,547.48 272.74,548.64 275.66,549.79 278.57,550.93 281.48,552.06 284.40,553.18 287.31,554.28 290.23,555.38 293.14,556.46 296.05,557.53 298.97,558.59 301.88,559.63 304.80,560.66 307.71,561.67 310.63,562.66 313.54,563.64 316.45,564.60 319.37,565.54 322.28,566.46 325.20,567.37 328.11,568.26 331.02,569.13 333.94,569.98 336.85,570.81 339.77,571.62 342.68,572.41 345.60,573.18 348.51,573.93 351.42,574.66 354.34,575.37 357.25,576.06 360.17,576.73 363.08,577.38 365.99,578.01 368.91,578.62 371.82,579.21 374.74,579.78 377.65,580.33 380.57,580.86 383.48,581.37 386.39,581.86 389.31,582.33 392.22,582.78 395.14,583.21 398.05,583.63 400.96,584.02 403.88,584.40 406.79,584.76 409.71,585.11 412.62,585.43 415.53,585.74 418.45,586.04 421.36,586.32 424.28,586.58 427.19,586.83 430.11,587.07 433.02,587.29 435.93,587.49 438.85,587.69 441.76,587.87 444.68,588.04 447.59,588.20 450.50,588.35 453.42,588.48 456.33,588.61 459.25,588.72 462.16,588.83 465.08,588.93 467.99,589.02 470.90,589.10 473.82,589.18 476.73,589.24 479.65,589.30 482.56,589.36 485.47,589.41 488.39,589.45 491.30,589.49 494.22,589.53 497.13,589.56 500.05,589.58 502.96,589.60 505.87,589.62 508.79,589.64 511.70,589.65 514.62,589.67 517.53,589.68 520.44,589.69 523.36,589.69 526.27,589.70 529.19,589.70 532.10,589.71 535.02,589.71 537.93,589.71 540.84,589.71 543.76,589.71 546.67,589.71 549.59,589.71 552.50,589.71" fill="none" stroke="#333" stroke-width="0.85"/>
<path d="M89.15,440.17 92.06,440.22 94.98,440.36 97.89,440.59 100.81,440.92 103.72,441.35 106.63,441.86 109.55,442.47 112.46,443.17 115.38,443.96 118.29,444.85 121.21,445.82 124.12,446.87 127.03,448.02 129.95,449.25 132.86,450.56 135.78,451.95 138.69,453.43 141.60,454.98 144.52,456.61 147.43,458.32 150.35,460.09 153.26,461.94 156.18,463.86 159.09,465.84 162.00,467.88 164.92,469.99 167.83,472.15 170.75,474.38 173.66,476.65 176.57,478.98 179.49,481.35 182.40,483.77 185.32,486.23 188.23,488.74 191.15,491.28 194.06,493.85 196.97,496.46 199.89,499.09 202.80,501.75 205.72,504.43 208.63,507.13 211.54,509.85 214.46,512.58 217.37,515.32 220.29,518.07 223.20,520.83 226.12,523.58 229.03,526.34 231.94,529.09 234.86,531.83 237.77,534.57 240.69,537.29 243.60,540.00 246.51,542.69 249.43,545.36 252.34,548.00 255.26,550.62 258.17,553.22 261.08,555.78 264.00,558.31 266.91,560.80 269.83,563.26 272.74,565.68 275.66,568.05 278.57,570.39 281.48,572.67 284.40,574.91 287.31,577.11 290.23,579.25 293.14,581.34 296.05,583.37 298.97,585.36 301.88,587.28 304.80,589.15 307.71,590.96 310.63,592.71 313.54,594.40 316.45,596.03 319.37,597.60 322.28,599.10 325.20,600.54 328.11,601.92 331.02,603.24 333.94,604.49 336.85,605.68 339.77,606.80 342.68,607.86 345.60,608.86 348.51,609.79 351.42,610.66 354.34,611.47 357.25,612.22 360.17,612.90 363.08,613.52 365.99,614.09 368.91,614.59 371.82,615.04 374.74,615.43 377.65,615.76 380.57,616.04 383.48,616.27 386.39,616.44 389.31,616.56 392.22,616.64 395.14,616.66 398.05,616.64 400.96,616.57 403.88,616.46 406.79,616.31 409.71,616.12 412.62,615.89 415.53,615.63 418.45,615.33 421.36,615.00 424.28,614.64 427.19,614.25 430.11,613.83 433.02,613.39 435.93,612.92 438.85,612.44 441.76,611.93 444.68,611.41 447.59,610.88 450.50,610.33 453.42,609.77 456.33,609.20 459.25,608.63 462.16,608.05 465.08,607.46 467.99,606.88 470.90,606.30 473.82,605.71 476.73,605.14 479.65,604.56 482.56,604.00 485.47,603.45 488.39,602.90 491.30,602.37 494.22,601.85 497.13,601.35 500.05,600.87 502.96,600.40 505.87,599.95 508.79,599.53 511.70,599.12 514.62,598.74 517.53,598.38 520.44,598.05 523.36,597.75 526.27,597.47 529.19,597.21 532.10,596.99 535.02,596.79 537.93,596.63 540.84,596.49 543.76,596.38 546.67,596.31 549.59,596.26 552.50,596.25" fill="none" stroke="#000" stroke-width="2.6" stroke-dasharray="5.6 5.72" stroke-linecap="round"/>
<path d="M89.15,495.98 92.06,496.00 94.98,496.06 97.89,496.15 100.81,496.27 103.72,496.44 106.63,496.64 109.55,496.87 112.46,497.14 115.38,497.45 118.29,497.79 121.21,498.17 124.12,498.58 127.03,499.02 129.95,499.50 132.86,500.01 135.78,500.55 138.69,501.12 141.60,501.73 144.52,502.37 147.43,503.03 150.35,503.73 153.26,504.46 156.18,505.21 159.09,505.99 162.00,506.80 164.92,507.64 167.83,508.50 170.75,509.38 173.66,510.29 176.57,511.22 179.49,512.17 182.40,513.15 185.32,514.14 188.23,515.15 191.15,516.19 194.06,517.24 196.97,518.30 199.89,519.38 202.80,520.48 205.72,521.59 208.63,522.71 211.54,523.84 214.46,524.99 217.37,526.14 220.29,527.30 223.20,528.48 226.12,529.65 229.03,530.84 231.94,532.02 234.86,533.22 237.77,534.41 240.69,535.61 243.60,536.81 246.51,538.00 249.43,539.20 252.34,540.39 255.26,541.59 258.17,542.78 261.08,543.96 264.00,545.14 266.91,546.31 269.83,547.48 272.74,548.64 275.66,549.79 278.57,550.93 281.48,552.06 284.40,553.18 287.31,554.28 290.23,555.38 293.14,556.46 296.05,557.53 298.97,558.59 301.88,559.63 304.80,560.66 307.71,561.67 310.63,562.66 313.54,563.64 316.45,564.60 319.37,565.54 322.28,566.46 325.20,567.37 328.11,568.26 331.02,569.13 333.94,569.98 336.85,570.81 339.77,571.62 342.68,572.41 345.60,573.18 348.51,573.93 351.42,574.66 354.34,575.37 357.25,576.06 360.17,576.73 363.08,577.38 365.99,578.01 368.91,578.62 371.82,579.21 374.74,579.78 377.65,580.33 380.57,580.86 383.48,581.37 386.39,581.86 389.31,582.33 392.22,582.78 395.14,583.21 398.05,583.63 400.96,584.02 403.88,584.40 406.79,584.76 409.71,585.11 412.62,585.43 415.53,585.74 418.45,586.04 421.36,586.32 424.28,586.58 427.19,586.83 430.11,587.07 433.02,587.29 435.93,587.49 438.85,587.69 441.76,587.87 444.68,588.04 447.59,588.20 450.50,588.35 453.42,588.48 456.33,588.61 459.25,588.72 462.16,588.83 465.08,588.93 467.99,589.02 470.90,589.10 473.82,589.18 476.73,589.24 479.65,589.30 482.56,589.36 485.47,589.41 488.39,589.45 491.30,589.49 494.22,589.53 497.13,589.56 500.05,589.58 502.96,589.60 505.87,589.62 508.79,589.64 511.70,589.65 514.62,589.67 517.53,589.68 520.44,589.69 523.36,589.69 526.27,589.70 529.19,589.70 532.10,589.71 535.02,589.71 537.93,589.71 540.84,589.71 543.76,589.71 546.67,589.71 549.59,589.71 552.50,589.71" fill="none" stroke="#000" stroke-width="2.6" stroke-dasharray="5.6 5.72" stroke-linecap="round"/>
</g>
<path d="M692.6,380.8 V667.3 H1155.9" fill="none" stroke="#4d4d4d" stroke-width="1.2" stroke-linejoin="round"/>
<path d="M692.6,380.80 h5.3" stroke="#4d4d4d" stroke-width="1.2"/>
<path d="M692.6,438.10 h5.3" stroke="#4d4d4d" stroke-width="1.2"/>
<path d="M692.6,495.40 h5.3" stroke="#4d4d4d" stroke-width="1.2"/>
<path d="M692.6,552.70 h5.3" stroke="#4d4d4d" stroke-width="1.2"/>
<path d="M692.6,610.00 h5.3" stroke="#4d4d4d" stroke-width="1.2"/>
<path d="M808.43,667.3 v-5.3" stroke="#4d4d4d" stroke-width="1.2"/>
<path d="M924.25,667.3 v-5.3" stroke="#4d4d4d" stroke-width="1.2"/>
<path d="M1040.08,667.3 v-5.3" stroke="#4d4d4d" stroke-width="1.2"/>
<path d="M1155.90,667.3 v-5.3" stroke="#4d4d4d" stroke-width="1.2"/>
<text x="648.95" y="387.75" font-size="26.5" transform="translate(655.95,0) scale(0.84,1) translate(-655.95,0)">1</text>
<text x="662.19" y="387.75" font-size="26.5">.</text>
<text x="667.95" y="387.75" font-size="26.5">6</text>
<text x="648.95" y="445.05" font-size="26.5" transform="translate(655.95,0) scale(0.84,1) translate(-655.95,0)">1</text>
<text x="662.19" y="445.05" font-size="26.5">.</text>
<text x="668.07" y="445.05" font-size="26.5">4</text>
<text x="648.95" y="502.35" font-size="26.5" transform="translate(655.95,0) scale(0.84,1) translate(-655.95,0)">1</text>
<text x="662.19" y="502.35" font-size="26.5">.</text>
<text x="668.27" y="502.35" font-size="26.5">2</text>
<text x="648.95" y="559.65" font-size="26.5" transform="translate(655.95,0) scale(0.84,1) translate(-655.95,0)">1</text>
<text x="662.19" y="559.65" font-size="26.5">.</text>
<text x="668.12" y="559.65" font-size="26.5">0</text>
<text x="649.33" y="616.95" font-size="26.5">0</text>
<text x="662.19" y="616.95" font-size="26.5">.</text>
<text x="668.12" y="616.95" font-size="26.5">8</text>
<text x="649.33" y="674.25" font-size="26.5">0</text>
<text x="662.19" y="674.25" font-size="26.5">.</text>
<text x="667.95" y="674.25" font-size="26.5">6</text>
<text x="684.77" y="696.95" font-size="26.5">0</text>
<text x="788.87" y="696.95" font-size="26.5">π</text>
<path d="M805.70,701.40 L813.50,680.10" stroke="#000" stroke-width="1.45" fill="none"/>
<text x="815.17" y="696.95" font-size="26.5">4</text>
<text x="906.12" y="696.95" font-size="26.5">π</text>
<path d="M922.90,701.40 L931.20,680.10" stroke="#000" stroke-width="1.45" fill="none"/>
<text x="932.67" y="696.95" font-size="26.5">2</text>
<text x="1014.46" y="696.95" font-size="26.5">3</text>
<text x="1029.37" y="696.95" font-size="26.5">π</text>
<path d="M1046.15,701.40 L1054.15,680.10" stroke="#000" stroke-width="1.45" fill="none"/>
<text x="1055.47" y="696.95" font-size="26.5">4</text>
<text x="1152.62" y="696.95" font-size="26.5">π</text>
<text x="601.66" y="389.8" font-size="28.1">(</text>
<text x="612.63" y="389.80" font-size="28.1" font-style="italic">d</text>
<text x="629.50" y="389.8" font-size="28.1">)</text>
<clipPath id="c4"><rect x="692.60" y="370.80" width="467.30" height="306.50"/></clipPath><g clip-path="url(#c4)">
<path d="M692.60,411.36 695.51,411.41 698.43,411.57 701.34,411.82 704.26,412.18 707.17,412.65 710.08,413.21 713.00,413.88 715.91,414.64 718.82,415.51 721.74,416.47 724.65,417.53 727.57,418.69 730.48,419.94 733.39,421.29 736.31,422.73 739.22,424.26 742.14,425.88 745.05,427.59 747.96,429.39 750.88,431.27 753.79,433.23 756.70,435.27 759.62,437.39 762.53,439.59 765.45,441.86 768.36,444.20 771.27,446.62 774.19,449.09 777.10,451.64 780.02,454.24 782.93,456.91 785.84,459.63 788.76,462.40 791.67,465.23 794.58,468.10 797.50,471.03 800.41,473.99 803.33,476.99 806.24,480.03 809.15,483.11 812.07,486.21 814.98,489.35 817.89,492.51 820.81,495.69 823.72,498.89 826.64,502.11 829.55,505.34 832.46,508.59 835.38,511.84 838.29,515.09 841.21,518.35 844.12,521.61 847.03,524.86 849.95,528.11 852.86,531.35 855.77,534.58 858.69,537.79 861.60,540.99 864.52,544.16 867.43,547.32 870.34,550.45 873.26,553.55 876.17,556.63 879.09,559.67 882.00,562.68 884.91,565.65 887.83,568.59 890.74,571.48 893.65,574.34 896.57,577.15 899.48,579.91 902.40,582.63 905.31,585.30 908.22,587.92 911.14,590.49 914.05,593.01 916.97,595.47 919.88,597.87 922.79,600.23 925.71,602.52 928.62,604.75 931.53,606.93 934.45,609.04 937.36,611.10 940.28,613.09 943.19,615.03 946.10,616.90 949.02,618.71 951.93,620.46 954.85,622.14 957.76,623.77 960.67,625.33 963.59,626.83 966.50,628.26 969.41,629.64 972.33,630.95 975.24,632.21 978.16,633.40 981.07,634.54 983.98,635.62 986.90,636.64 989.81,637.60 992.73,638.51 995.64,639.36 998.55,640.16 1001.47,640.90 1004.38,641.60 1007.29,642.24 1010.21,642.83 1013.12,643.38 1016.04,643.88 1018.95,644.34 1021.86,644.75 1024.78,645.12 1027.69,645.45 1030.61,645.74 1033.52,645.99 1036.43,646.21 1039.35,646.40 1042.26,646.55 1045.17,646.67 1048.09,646.76 1051.00,646.82 1053.92,646.86 1056.83,646.88 1059.74,646.87 1062.66,646.84 1065.57,646.79 1068.48,646.72 1071.40,646.64 1074.31,646.55 1077.23,646.44 1080.14,646.32 1083.05,646.19 1085.97,646.05 1088.88,645.91 1091.80,645.76 1094.71,645.61 1097.62,645.45 1100.54,645.29 1103.45,645.14 1106.36,644.98 1109.28,644.83 1112.19,644.68 1115.11,644.53 1118.02,644.40 1120.93,644.26 1123.85,644.14 1126.76,644.02 1129.68,643.91 1132.59,643.81 1135.50,643.73 1138.42,643.65 1141.33,643.58 1144.24,643.53 1147.16,643.48 1150.07,643.45 1152.99,643.43 1155.90,643.43" fill="none" stroke="#333" stroke-width="0.85"/>
<path d="M692.60,442.21 695.51,442.24 698.43,442.35 701.34,442.53 704.26,442.79 707.17,443.11 710.08,443.51 713.00,443.98 715.91,444.52 718.82,445.13 721.74,445.81 724.65,446.56 727.57,447.38 730.48,448.27 733.39,449.22 736.31,450.24 739.22,451.33 742.14,452.48 745.05,453.69 747.96,454.97 750.88,456.30 753.79,457.70 756.70,459.15 759.62,460.66 762.53,462.23 765.45,463.85 768.36,465.52 771.27,467.24 774.19,469.02 777.10,470.84 780.02,472.71 782.93,474.62 785.84,476.57 788.76,478.57 791.67,480.61 794.58,482.68 797.50,484.79 800.41,486.93 803.33,489.11 806.24,491.31 809.15,493.54 812.07,495.80 814.98,498.09 817.89,500.40 820.81,502.72 823.72,505.07 826.64,507.43 829.55,509.81 832.46,512.20 835.38,514.60 838.29,517.01 841.21,519.42 844.12,521.84 847.03,524.26 849.95,526.69 852.86,529.11 855.77,531.53 858.69,533.95 861.60,536.36 864.52,538.76 867.43,541.15 870.34,543.53 873.26,545.90 876.17,548.25 879.09,550.59 882.00,552.91 884.91,555.20 887.83,557.48 890.74,559.73 893.65,561.96 896.57,564.17 899.48,566.35 902.40,568.50 905.31,570.62 908.22,572.71 911.14,574.76 914.05,576.79 916.97,578.78 919.88,580.74 922.79,582.66 925.71,584.55 928.62,586.39 931.53,588.20 934.45,589.98 937.36,591.71 940.28,593.40 943.19,595.06 946.10,596.67 949.02,598.24 951.93,599.77 954.85,601.26 957.76,602.71 960.67,604.11 963.59,605.47 966.50,606.79 969.41,608.07 972.33,609.31 975.24,610.50 978.16,611.66 981.07,612.77 983.98,613.84 986.90,614.87 989.81,615.86 992.73,616.81 995.64,617.72 998.55,618.59 1001.47,619.43 1004.38,620.22 1007.29,620.98 1010.21,621.70 1013.12,622.39 1016.04,623.04 1018.95,623.65 1021.86,624.24 1024.78,624.79 1027.69,625.31 1030.61,625.80 1033.52,626.25 1036.43,626.68 1039.35,627.09 1042.26,627.46 1045.17,627.81 1048.09,628.13 1051.00,628.43 1053.92,628.71 1056.83,628.96 1059.74,629.19 1062.66,629.41 1065.57,629.60 1068.48,629.78 1071.40,629.94 1074.31,630.08 1077.23,630.21 1080.14,630.32 1083.05,630.42 1085.97,630.51 1088.88,630.59 1091.80,630.65 1094.71,630.71 1097.62,630.76 1100.54,630.80 1103.45,630.83 1106.36,630.86 1109.28,630.88 1112.19,630.90 1115.11,630.91 1118.02,630.92 1120.93,630.93 1123.85,630.93 1126.76,630.93 1129.68,630.93 1132.59,630.93 1135.50,630.93 1138.42,630.92 1141.33,630.92 1144.24,630.92 1147.16,630.91 1150.07,630.91 1152.99,630.91 1155.90,630.91" fill="none" stroke="#333" stroke-width="0.85"/>
<path d="M692.60,413.05 695.51,413.10 698.43,413.26 701.34,413.52 704.26,413.88 707.17,414.34 710.08,414.91 713.00,415.58 715.91,416.35 718.82,417.22 721.74,418.18 724.65,419.25 727.57,420.41 730.48,421.67 733.39,423.03 736.31,424.47 739.22,426.01 742.14,427.64 745.05,429.35 747.96,431.15 750.88,433.04 753.79,435.01 756.70,437.05 759.62,439.18 762.53,441.38 765.45,443.66 768.36,446.00 771.27,448.42 774.19,450.90 777.10,453.45 780.02,456.05 782.93,458.72 785.84,461.44 788.76,464.21 791.67,467.04 794.58,469.91 797.50,472.82 800.41,475.78 803.33,478.78 806.24,481.81 809.15,484.87 812.07,487.97 814.98,491.09 817.89,494.24 820.81,497.40 823.72,500.59 826.64,503.79 829.55,507.00 832.46,510.22 835.38,513.45 838.29,516.68 841.21,519.91 844.12,523.14 847.03,526.36 849.95,529.58 852.86,532.78 855.77,535.97 858.69,539.15 861.60,542.31 864.52,545.44 867.43,548.55 870.34,551.64 873.26,554.69 876.17,557.72 879.09,560.71 882.00,563.67 884.91,566.59 887.83,569.47 890.74,572.31 893.65,575.10 896.57,577.85 899.48,580.56 902.40,583.21 905.31,585.82 908.22,588.37 911.14,590.88 914.05,593.32 916.97,595.72 919.88,598.05 922.79,600.33 925.71,602.55 928.62,604.71 931.53,606.82 934.45,608.86 937.36,610.84 940.28,612.76 943.19,614.62 946.10,616.41 949.02,618.15 951.93,619.82 954.85,621.43 957.76,622.97 960.67,624.46 963.59,625.88 966.50,627.24 969.41,628.54 972.33,629.78 975.24,630.96 978.16,632.08 981.07,633.14 983.98,634.15 986.90,635.09 989.81,635.98 992.73,636.82 995.64,637.60 998.55,638.33 1001.47,639.00 1004.38,639.63 1007.29,640.21 1010.21,640.74 1013.12,641.22 1016.04,641.65 1018.95,642.05 1021.86,642.40 1024.78,642.71 1027.69,642.98 1030.61,643.21 1033.52,643.41 1036.43,643.57 1039.35,643.70 1042.26,643.80 1045.17,643.87 1048.09,643.92 1051.00,643.93 1053.92,643.92 1056.83,643.89 1059.74,643.84 1062.66,643.77 1065.57,643.68 1068.48,643.58 1071.40,643.46 1074.31,643.32 1077.23,643.18 1080.14,643.03 1083.05,642.87 1085.97,642.70 1088.88,642.52 1091.80,642.35 1094.71,642.17 1097.62,641.99 1100.54,641.81 1103.45,641.63 1106.36,641.45 1109.28,641.28 1112.19,641.11 1115.11,640.95 1118.02,640.79 1120.93,640.64 1123.85,640.51 1126.76,640.38 1129.68,640.26 1132.59,640.15 1135.50,640.05 1138.42,639.97 1141.33,639.89 1144.24,639.83 1147.16,639.79 1150.07,639.75 1152.99,639.73 1155.90,639.72" fill="none" stroke="#000" stroke-width="2.6" stroke-dasharray="5.6 5.72" stroke-linecap="round"/>
<path d="M692.60,448.02 695.51,448.06 698.43,448.16 701.34,448.34 704.26,448.58 707.17,448.90 710.08,449.28 713.00,449.74 715.91,450.26 718.82,450.85 721.74,451.51 724.65,452.23 727.57,453.02 730.48,453.88 733.39,454.80 736.31,455.78 739.22,456.83 742.14,457.94 745.05,459.11 747.96,460.34 750.88,461.62 753.79,462.97 756.70,464.37 759.62,465.82 762.53,467.33 765.45,468.89 768.36,470.49 771.27,472.15 774.19,473.86 777.10,475.61 780.02,477.40 782.93,479.24 785.84,481.11 788.76,483.03 791.67,484.98 794.58,486.97 797.50,488.99 800.41,491.04 803.33,493.12 806.24,495.23 809.15,497.37 812.07,499.53 814.98,501.71 817.89,503.91 820.81,506.13 823.72,508.37 826.64,510.62 829.55,512.88 832.46,515.16 835.38,517.44 838.29,519.73 841.21,522.03 844.12,524.33 847.03,526.63 849.95,528.93 852.86,531.23 855.77,533.52 858.69,535.81 861.60,538.09 864.52,540.37 867.43,542.63 870.34,544.88 873.26,547.11 876.17,549.33 879.09,551.53 882.00,553.72 884.91,555.88 887.83,558.02 890.74,560.14 893.65,562.24 896.57,564.31 899.48,566.36 902.40,568.37 905.31,570.36 908.22,572.32 911.14,574.25 914.05,576.14 916.97,578.00 919.88,579.83 922.79,581.63 925.71,583.39 928.62,585.11 931.53,586.80 934.45,588.45 937.36,590.07 940.28,591.64 943.19,593.18 946.10,594.68 949.02,596.14 951.93,597.56 954.85,598.94 957.76,600.28 960.67,601.58 963.59,602.84 966.50,604.07 969.41,605.25 972.33,606.39 975.24,607.50 978.16,608.57 981.07,609.59 983.98,610.58 986.90,611.53 989.81,612.44 992.73,613.32 995.64,614.16 998.55,614.96 1001.47,615.73 1004.38,616.46 1007.29,617.16 1010.21,617.82 1013.12,618.45 1016.04,619.05 1018.95,619.62 1021.86,620.16 1024.78,620.66 1027.69,621.14 1030.61,621.59 1033.52,622.01 1036.43,622.40 1039.35,622.77 1042.26,623.12 1045.17,623.44 1048.09,623.74 1051.00,624.01 1053.92,624.27 1056.83,624.50 1059.74,624.72 1062.66,624.91 1065.57,625.09 1068.48,625.25 1071.40,625.40 1074.31,625.53 1077.23,625.65 1080.14,625.76 1083.05,625.85 1085.97,625.94 1088.88,626.01 1091.80,626.07 1094.71,626.13 1097.62,626.17 1100.54,626.21 1103.45,626.24 1106.36,626.27 1109.28,626.29 1112.19,626.31 1115.11,626.32 1118.02,626.33 1120.93,626.34 1123.85,626.34 1126.76,626.35 1129.68,626.35 1132.59,626.35 1135.50,626.34 1138.42,626.34 1141.33,626.34 1144.24,626.34 1147.16,626.34 1150.07,626.34 1152.99,626.34 1155.90,626.34" fill="none" stroke="#000" stroke-width="2.6" stroke-dasharray="5.6 5.72" stroke-linecap="round"/>
</g>
<path d="M89.15,747.9 V1034.45 H552.5" fill="none" stroke="#4d4d4d" stroke-width="1.2" stroke-linejoin="round"/>
<path d="M89.15,747.90 h5.3" stroke="#4d4d4d" stroke-width="1.2"/>
<path d="M89.15,805.21 h5.3" stroke="#4d4d4d" stroke-width="1.2"/>
<path d="M89.15,862.52 h5.3" stroke="#4d4d4d" stroke-width="1.2"/>
<path d="M89.15,919.83 h5.3" stroke="#4d4d4d" stroke-width="1.2"/>
<path d="M89.15,977.14 h5.3" stroke="#4d4d4d" stroke-width="1.2"/>
<path d="M204.99,1034.45 v-5.3" stroke="#4d4d4d" stroke-width="1.2"/>
<path d="M320.83,1034.45 v-5.3" stroke="#4d4d4d" stroke-width="1.2"/>
<path d="M436.66,1034.45 v-5.3" stroke="#4d4d4d" stroke-width="1.2"/>
<path d="M552.50,1034.45 v-5.3" stroke="#4d4d4d" stroke-width="1.2"/>
<text x="46.95" y="756.65" font-size="26.5" transform="translate(53.95,0) scale(0.84,1) translate(-53.95,0)">1</text>
<text x="60.19" y="756.65" font-size="26.5">.</text>
<text x="65.95" y="756.65" font-size="26.5">6</text>
<text x="46.95" y="813.96" font-size="26.5" transform="translate(53.95,0) scale(0.84,1) translate(-53.95,0)">1</text>
<text x="60.19" y="813.96" font-size="26.5">.</text>
<text x="66.07" y="813.96" font-size="26.5">4</text>
<text x="46.95" y="871.27" font-size="26.5" transform="translate(53.95,0) scale(0.84,1) translate(-53.95,0)">1</text>
<text x="60.19" y="871.27" font-size="26.5">.</text>
<text x="66.27" y="871.27" font-size="26.5">2</text>
<text x="46.95" y="928.58" font-size="26.5" transform="translate(53.95,0) scale(0.84,1) translate(-53.95,0)">1</text>
<text x="60.19" y="928.58" font-size="26.5">.</text>
<text x="66.12" y="928.58" font-size="26.5">0</text>
<text x="47.33" y="985.89" font-size="26.5">0</text>
<text x="60.19" y="985.89" font-size="26.5">.</text>
<text x="66.12" y="985.89" font-size="26.5">8</text>
<text x="47.33" y="1043.20" font-size="26.5">0</text>
<text x="60.19" y="1043.20" font-size="26.5">.</text>
<text x="65.95" y="1043.20" font-size="26.5">6</text>
<text x="81.67" y="1064.35" font-size="26.5">0</text>
<text x="185.52" y="1064.35" font-size="26.5">π</text>
<path d="M202.35,1068.80 L210.15,1047.50" stroke="#000" stroke-width="1.45" fill="none"/>
<text x="211.82" y="1064.35" font-size="26.5">4</text>
<text x="302.07" y="1064.35" font-size="26.5">π</text>
<path d="M318.85,1068.80 L327.15,1047.50" stroke="#000" stroke-width="1.45" fill="none"/>
<text x="328.62" y="1064.35" font-size="26.5">2</text>
<text x="410.26" y="1064.35" font-size="26.5">3</text>
<text x="425.17" y="1064.35" font-size="26.5">π</text>
<path d="M441.95,1068.80 L449.95,1047.50" stroke="#000" stroke-width="1.45" fill="none"/>
<text x="451.27" y="1064.35" font-size="26.5">4</text>
<text x="547.82" y="1064.35" font-size="26.5">π</text>
<text x="-0.24" y="758.5" font-size="28.1">(</text>
<text x="10.10" y="758.50" font-size="28.1" font-style="italic">e</text>
<text x="22.90" y="758.5" font-size="28.1">)</text>
<clipPath id="c5"><rect x="89.15" y="737.90" width="467.35" height="306.55"/></clipPath><g clip-path="url(#c5)">
<path d="M89.15,807.28 92.06,807.33 94.98,807.47 97.89,807.70 100.81,808.03 103.72,808.46 106.63,808.97 109.55,809.58 112.46,810.28 115.38,811.08 118.29,811.96 121.21,812.93 124.12,813.99 127.03,815.13 129.95,816.36 132.86,817.67 135.78,819.07 138.69,820.54 141.60,822.09 144.52,823.72 147.43,825.43 150.35,827.21 153.26,829.05 156.18,830.97 159.09,832.95 162.00,835.00 164.92,837.10 167.83,839.27 170.75,841.49 173.66,843.77 176.57,846.09 179.49,848.47 182.40,850.89 185.32,853.35 188.23,855.86 191.15,858.40 194.06,860.97 196.97,863.58 199.89,866.21 202.80,868.87 205.72,871.55 208.63,874.25 211.54,876.97 214.46,879.70 217.37,882.45 220.29,885.20 223.20,887.95 226.12,890.71 229.03,893.46 231.94,896.21 234.86,898.96 237.77,901.69 240.69,904.42 243.60,907.13 246.51,909.82 249.43,912.48 252.34,915.13 255.26,917.75 258.17,920.35 261.08,922.91 264.00,925.44 266.91,927.93 269.83,930.39 272.74,932.81 275.66,935.19 278.57,937.52 281.48,939.81 284.40,942.05 287.31,944.24 290.23,946.38 293.14,948.47 296.05,950.51 298.97,952.49 301.88,954.42 304.80,956.28 307.71,958.09 310.63,959.85 313.54,961.54 316.45,963.17 319.37,964.73 322.28,966.24 325.20,967.68 328.11,969.06 331.02,970.38 333.94,971.63 336.85,972.82 339.77,973.94 342.68,975.00 345.60,976.00 348.51,976.93 351.42,977.80 354.34,978.61 357.25,979.36 360.17,980.04 363.08,980.66 365.99,981.23 368.91,981.73 371.82,982.18 374.74,982.57 377.65,982.90 380.57,983.18 383.48,983.41 386.39,983.58 389.31,983.70 392.22,983.78 395.14,983.80 398.05,983.78 400.96,983.71 403.88,983.60 406.79,983.45 409.71,983.26 412.62,983.03 415.53,982.77 418.45,982.47 421.36,982.14 424.28,981.78 427.19,981.39 430.11,980.97 433.02,980.53 435.93,980.06 438.85,979.58 441.76,979.07 444.68,978.55 447.59,978.02 450.50,977.47 453.42,976.91 456.33,976.34 459.25,975.77 462.16,975.19 465.08,974.60 467.99,974.02 470.90,973.43 473.82,972.85 476.73,972.28 479.65,971.70 482.56,971.14 485.47,970.58 488.39,970.04 491.30,969.51 494.22,968.99 497.13,968.49 500.05,968.01 502.96,967.54 505.87,967.09 508.79,966.67 511.70,966.26 514.62,965.88 517.53,965.52 520.44,965.19 523.36,964.88 526.27,964.60 529.19,964.35 532.10,964.13 535.02,963.93 537.93,963.76 540.84,963.63 543.76,963.52 546.67,963.44 549.59,963.40 552.50,963.38" fill="none" stroke="#333" stroke-width="0.85"/>
<path d="M89.15,863.10 92.06,863.12 94.98,863.18 97.89,863.27 100.81,863.39 103.72,863.56 106.63,863.76 109.55,863.99 112.46,864.26 115.38,864.57 118.29,864.91 121.21,865.29 124.12,865.70 127.03,866.14 129.95,866.62 132.86,867.13 135.78,867.67 138.69,868.25 141.60,868.85 144.52,869.49 147.43,870.16 150.35,870.85 153.26,871.58 156.18,872.33 159.09,873.12 162.00,873.92 164.92,874.76 167.83,875.62 170.75,876.50 173.66,877.41 176.57,878.34 179.49,879.30 182.40,880.27 185.32,881.26 188.23,882.28 191.15,883.31 194.06,884.36 196.97,885.43 199.89,886.51 202.80,887.60 205.72,888.71 208.63,889.83 211.54,890.97 214.46,892.11 217.37,893.27 220.29,894.43 223.20,895.60 226.12,896.78 229.03,897.96 231.94,899.15 234.86,900.34 237.77,901.54 240.69,902.73 243.60,903.93 246.51,905.13 249.43,906.33 252.34,907.52 255.26,908.72 258.17,909.90 261.08,911.09 264.00,912.27 266.91,913.44 269.83,914.61 272.74,915.77 275.66,916.92 278.57,918.06 281.48,919.19 284.40,920.31 287.31,921.41 290.23,922.51 293.14,923.59 296.05,924.66 298.97,925.72 301.88,926.76 304.80,927.79 307.71,928.80 310.63,929.79 313.54,930.77 316.45,931.73 319.37,932.67 322.28,933.60 325.20,934.50 328.11,935.39 331.02,936.26 333.94,937.11 336.85,937.94 339.77,938.75 342.68,939.54 345.60,940.31 348.51,941.07 351.42,941.80 354.34,942.51 357.25,943.20 360.17,943.87 363.08,944.52 365.99,945.15 368.91,945.76 371.82,946.34 374.74,946.91 377.65,947.46 380.57,947.99 383.48,948.50 386.39,948.99 389.31,949.46 392.22,949.91 395.14,950.35 398.05,950.76 400.96,951.16 403.88,951.54 406.79,951.90 409.71,952.24 412.62,952.57 415.53,952.88 418.45,953.17 421.36,953.45 424.28,953.72 427.19,953.97 430.11,954.20 433.02,954.42 435.93,954.63 438.85,954.82 441.76,955.01 444.68,955.18 447.59,955.33 450.50,955.48 453.42,955.62 456.33,955.74 459.25,955.86 462.16,955.97 465.08,956.07 467.99,956.16 470.90,956.24 473.82,956.31 476.73,956.38 479.65,956.44 482.56,956.50 485.47,956.54 488.39,956.59 491.30,956.63 494.22,956.66 497.13,956.69 500.05,956.72 502.96,956.74 505.87,956.76 508.79,956.78 511.70,956.79 514.62,956.80 517.53,956.81 520.44,956.82 523.36,956.83 526.27,956.83 529.19,956.84 532.10,956.84 535.02,956.84 537.93,956.85 540.84,956.85 543.76,956.85 546.67,956.85 549.59,956.85 552.50,956.85" fill="none" stroke="#333" stroke-width="0.85"/>
<path d="M89.15,807.28 92.06,807.33 94.98,807.47 97.89,807.70 100.81,808.03 103.72,808.46 106.63,808.97 109.55,809.58 112.46,810.28 115.38,811.08 118.29,811.96 121.21,812.93 124.12,813.99 127.03,815.13 129.95,816.36 132.86,817.67 135.78,819.07 138.69,820.54 141.60,822.09 144.52,823.72 147.43,825.43 150.35,827.21 153.26,829.05 156.18,830.97 159.09,832.95 162.00,835.00 164.92,837.10 167.83,839.27 170.75,841.49 173.66,843.77 176.57,846.09 179.49,848.47 182.40,850.89 185.32,853.35 188.23,855.86 191.15,858.40 194.06,860.97 196.97,863.58 199.89,866.21 202.80,868.87 205.72,871.55 208.63,874.25 211.54,876.97 214.46,879.70 217.37,882.45 220.29,885.20 223.20,887.95 226.12,890.71 229.03,893.46 231.94,896.21 234.86,898.96 237.77,901.69 240.69,904.42 243.60,907.13 246.51,909.82 249.43,912.48 252.34,915.13 255.26,917.75 258.17,920.35 261.08,922.91 264.00,925.44 266.91,927.93 269.83,930.39 272.74,932.81 275.66,935.19 278.57,937.52 281.48,939.81 284.40,942.05 287.31,944.24 290.23,946.38 293.14,948.47 296.05,950.51 298.97,952.49 301.88,954.42 304.80,956.28 307.71,958.09 310.63,959.85 313.54,961.54 316.45,963.17 319.37,964.73 322.28,966.24 325.20,967.68 328.11,969.06 331.02,970.38 333.94,971.63 336.85,972.82 339.77,973.94 342.68,975.00 345.60,976.00 348.51,976.93 351.42,977.80 354.34,978.61 357.25,979.36 360.17,980.04 363.08,980.66 365.99,981.23 368.91,981.73 371.82,982.18 374.74,982.57 377.65,982.90 380.57,983.18 383.48,983.41 386.39,983.58 389.31,983.70 392.22,983.78 395.14,983.80 398.05,983.78 400.96,983.71 403.88,983.60 406.79,983.45 409.71,983.26 412.62,983.03 415.53,982.77 418.45,982.47 421.36,982.14 424.28,981.78 427.19,981.39 430.11,980.97 433.02,980.53 435.93,980.06 438.85,979.58 441.76,979.07 444.68,978.55 447.59,978.02 450.50,977.47 453.42,976.91 456.33,976.34 459.25,975.77 462.16,975.19 465.08,974.60 467.99,974.02 470.90,973.43 473.82,972.85 476.73,972.28 479.65,971.70 482.56,971.14 485.47,970.58 488.39,970.04 491.30,969.51 494.22,968.99 497.13,968.49 500.05,968.01 502.96,967.54 505.87,967.09 508.79,966.67 511.70,966.26 514.62,965.88 517.53,965.52 520.44,965.19 523.36,964.88 526.27,964.60 529.19,964.35 532.10,964.13 535.02,963.93 537.93,963.76 540.84,963.63 543.76,963.52 546.67,963.44 549.59,963.40 552.50,963.38" fill="none" stroke="#000" stroke-width="2.6" stroke-dasharray="5.6 5.72" stroke-linecap="round"/>
<path d="M89.15,863.10 92.06,863.12 94.98,863.18 97.89,863.27 100.81,863.39 103.72,863.56 106.63,863.76 109.55,863.99 112.46,864.26 115.38,864.57 118.29,864.91 121.21,865.29 124.12,865.70 127.03,866.14 129.95,866.62 132.86,867.13 135.78,867.67 138.69,868.25 141.60,868.85 144.52,869.49 147.43,870.16 150.35,870.85 153.26,871.58 156.18,872.33 159.09,873.12 162.00,873.92 164.92,874.76 167.83,875.62 170.75,876.50 173.66,877.41 176.57,878.34 179.49,879.30 182.40,880.27 185.32,881.26 188.23,882.28 191.15,883.31 194.06,884.36 196.97,885.43 199.89,886.51 202.80,887.60 205.72,888.71 208.63,889.83 211.54,890.97 214.46,892.11 217.37,893.27 220.29,894.43 223.20,895.60 226.12,896.78 229.03,897.96 231.94,899.15 234.86,900.34 237.77,901.54 240.69,902.73 243.60,903.93 246.51,905.13 249.43,906.33 252.34,907.52 255.26,908.72 258.17,909.90 261.08,911.09 264.00,912.27 266.91,913.44 269.83,914.61 272.74,915.77 275.66,916.92 278.57,918.06 281.48,919.19 284.40,920.31 287.31,921.41 290.23,922.51 293.14,923.59 296.05,924.66 298.97,925.72 301.88,926.76 304.80,927.79 307.71,928.80 310.63,929.79 313.54,930.77 316.45,931.73 319.37,932.67 322.28,933.60 325.20,934.50 328.11,935.39 331.02,936.26 333.94,937.11 336.85,937.94 339.77,938.75 342.68,939.54 345.60,940.31 348.51,941.07 351.42,941.80 354.34,942.51 357.25,943.20 360.17,943.87 363.08,944.52 365.99,945.15 368.91,945.76 371.82,946.34 374.74,946.91 377.65,947.46 380.57,947.99 383.48,948.50 386.39,948.99 389.31,949.46 392.22,949.91 395.14,950.35 398.05,950.76 400.96,951.16 403.88,951.54 406.79,951.90 409.71,952.24 412.62,952.57 415.53,952.88 418.45,953.17 421.36,953.45 424.28,953.72 427.19,953.97 430.11,954.20 433.02,954.42 435.93,954.63 438.85,954.82 441.76,955.01 444.68,955.18 447.59,955.33 450.50,955.48 453.42,955.62 456.33,955.74 459.25,955.86 462.16,955.97 465.08,956.07 467.99,956.16 470.90,956.24 473.82,956.31 476.73,956.38 479.65,956.44 482.56,956.50 485.47,956.54 488.39,956.59 491.30,956.63 494.22,956.66 497.13,956.69 500.05,956.72 502.96,956.74 505.87,956.76 508.79,956.78 511.70,956.79 514.62,956.80 517.53,956.81 520.44,956.82 523.36,956.83 526.27,956.83 529.19,956.84 532.10,956.84 535.02,956.84 537.93,956.85 540.84,956.85 543.76,956.85 546.67,956.85 549.59,956.85 552.50,956.85" fill="none" stroke="#000" stroke-width="2.6" stroke-dasharray="5.6 5.72" stroke-linecap="round"/>
</g>
<path d="M690.5,747.9 V1034.45 H1153.75" fill="none" stroke="#4d4d4d" stroke-width="1.2" stroke-linejoin="round"/>
<path d="M690.5,747.90 h5.3" stroke="#4d4d4d" stroke-width="1.2"/>
<path d="M690.5,805.21 h5.3" stroke="#4d4d4d" stroke-width="1.2"/>
<path d="M690.5,862.52 h5.3" stroke="#4d4d4d" stroke-width="1.2"/>
<path d="M690.5,919.83 h5.3" stroke="#4d4d4d" stroke-width="1.2"/>
<path d="M690.5,977.14 h5.3" stroke="#4d4d4d" stroke-width="1.2"/>
<path d="M806.31,1034.45 v-5.3" stroke="#4d4d4d" stroke-width="1.2"/>
<path d="M922.12,1034.45 v-5.3" stroke="#4d4d4d" stroke-width="1.2"/>
<path d="M1037.94,1034.45 v-5.3" stroke="#4d4d4d" stroke-width="1.2"/>
<path d="M1153.75,1034.45 v-5.3" stroke="#4d4d4d" stroke-width="1.2"/>
<text x="648.95" y="756.65" font-size="26.5" transform="translate(655.95,0) scale(0.84,1) translate(-655.95,0)">1</text>
<text x="662.19" y="756.65" font-size="26.5">.</text>
<text x="667.95" y="756.65" font-size="26.5">6</text>
<text x="648.95" y="813.96" font-size="26.5" transform="translate(655.95,0) scale(0.84,1) translate(-655.95,0)">1</text>
<text x="662.19" y="813.96" font-size="26.5">.</text>
<text x="668.07" y="813.96" font-size="26.5">4</text>
<text x="648.95" y="871.27" font-size="26.5" transform="translate(655.95,0) scale(0.84,1) translate(-655.95,0)">1</text>
<text x="662.19" y="871.27" font-size="26.5">.</text>
<text x="668.27" y="871.27" font-size="26.5">2</text>
<text x="648.95" y="928.58" font-size="26.5" transform="translate(655.95,0) scale(0.84,1) translate(-655.95,0)">1</text>
<text x="662.19" y="928.58" font-size="26.5">.</text>
<text x="668.12" y="928.58" font-size="26.5">0</text>
<text x="649.33" y="985.89" font-size="26.5">0</text>
<text x="662.19" y="985.89" font-size="26.5">.</text>
<text x="668.12" y="985.89" font-size="26.5">8</text>
<text x="649.33" y="1043.20" font-size="26.5">0</text>
<text x="662.19" y="1043.20" font-size="26.5">.</text>
<text x="667.95" y="1043.20" font-size="26.5">6</text>
<text x="683.02" y="1064.35" font-size="26.5">0</text>
<text x="787.12" y="1064.35" font-size="26.5">π</text>
<path d="M803.95,1068.80 L811.75,1047.50" stroke="#000" stroke-width="1.45" fill="none"/>
<text x="813.42" y="1064.35" font-size="26.5">4</text>
<text x="904.37" y="1064.35" font-size="26.5">π</text>
<path d="M921.15,1068.80 L929.45,1047.50" stroke="#000" stroke-width="1.45" fill="none"/>
<text x="930.92" y="1064.35" font-size="26.5">2</text>
<text x="1012.71" y="1064.35" font-size="26.5">3</text>
<text x="1027.62" y="1064.35" font-size="26.5">π</text>
<path d="M1044.40,1068.80 L1052.40,1047.50" stroke="#000" stroke-width="1.45" fill="none"/>
<text x="1053.72" y="1064.35" font-size="26.5">4</text>
<text x="1150.87" y="1064.35" font-size="26.5">π</text>
<text x="601.66" y="758.5" font-size="28.1">(</text>
<text x="616.87" y="758.50" font-size="28.1" font-style="italic">f</text>
<text x="633.10" y="758.5" font-size="28.1">)</text>
<clipPath id="c6"><rect x="690.50" y="737.90" width="467.25" height="306.55"/></clipPath><g clip-path="url(#c6)">
<path d="M690.50,774.46 693.41,774.52 696.33,774.68 699.24,774.94 702.15,775.31 705.07,775.78 707.98,776.36 710.89,777.04 713.81,777.83 716.72,778.71 719.64,779.70 722.55,780.79 725.46,781.98 728.38,783.26 731.29,784.64 734.20,786.12 737.12,787.69 740.03,789.35 742.94,791.10 745.86,792.94 748.77,794.86 751.68,796.87 754.60,798.96 757.51,801.14 760.42,803.38 763.34,805.71 766.25,808.11 769.17,810.58 772.08,813.12 774.99,815.72 777.91,818.38 780.82,821.11 783.73,823.89 786.65,826.73 789.56,829.63 792.47,832.57 795.39,835.55 798.30,838.58 801.21,841.66 804.13,844.76 807.04,847.91 809.95,851.08 812.87,854.29 815.78,857.52 818.69,860.77 821.61,864.05 824.52,867.34 827.44,870.64 830.35,873.96 833.26,877.28 836.18,880.61 839.09,883.94 842.00,887.27 844.92,890.60 847.83,893.92 850.74,897.23 853.66,900.53 856.57,903.82 859.48,907.09 862.40,910.34 865.31,913.57 868.22,916.78 871.14,919.96 874.05,923.11 876.97,926.23 879.88,929.31 882.79,932.36 885.71,935.38 888.62,938.35 891.53,941.28 894.45,944.17 897.36,947.02 900.27,949.82 903.19,952.57 906.10,955.27 909.01,957.92 911.93,960.52 914.84,963.07 917.75,965.56 920.67,968.00 923.58,970.38 926.50,972.70 929.41,974.97 932.32,977.17 935.24,979.32 938.15,981.41 941.06,983.44 943.98,985.40 946.89,987.31 949.80,989.16 952.72,990.94 955.63,992.67 958.54,994.33 961.46,995.94 964.37,997.48 967.28,998.96 970.20,1000.39 973.11,1001.75 976.03,1003.06 978.94,1004.31 981.85,1005.50 984.77,1006.63 987.68,1007.71 990.59,1008.74 993.51,1009.71 996.42,1010.62 999.33,1011.49 1002.25,1012.31 1005.16,1013.07 1008.07,1013.79 1010.99,1014.46 1013.90,1015.09 1016.81,1015.67 1019.73,1016.20 1022.64,1016.70 1025.56,1017.15 1028.47,1017.57 1031.38,1017.95 1034.30,1018.29 1037.21,1018.60 1040.12,1018.88 1043.04,1019.12 1045.95,1019.33 1048.86,1019.52 1051.78,1019.68 1054.69,1019.81 1057.60,1019.92 1060.52,1020.01 1063.43,1020.08 1066.34,1020.12 1069.26,1020.15 1072.17,1020.17 1075.08,1020.16 1078.00,1020.15 1080.91,1020.12 1083.83,1020.08 1086.74,1020.04 1089.65,1019.98 1092.57,1019.92 1095.48,1019.85 1098.39,1019.78 1101.31,1019.70 1104.22,1019.62 1107.13,1019.54 1110.05,1019.46 1112.96,1019.38 1115.87,1019.31 1118.79,1019.23 1121.70,1019.16 1124.61,1019.09 1127.53,1019.03 1130.44,1018.97 1133.36,1018.91 1136.27,1018.87 1139.18,1018.83 1142.10,1018.79 1145.01,1018.77 1147.92,1018.75 1150.84,1018.73 1153.75,1018.73" fill="none" stroke="#333" stroke-width="0.85"/>
<path d="M690.50,798.09 693.41,798.13 696.33,798.25 699.24,798.45 702.15,798.74 705.07,799.10 707.98,799.54 710.89,800.06 713.81,800.67 716.72,801.35 719.64,802.10 722.55,802.94 725.46,803.85 728.38,804.84 731.29,805.90 734.20,807.03 737.12,808.24 740.03,809.52 742.94,810.87 745.86,812.28 748.77,813.77 751.68,815.32 754.60,816.94 757.51,818.62 760.42,820.36 763.34,822.16 766.25,824.02 769.17,825.94 772.08,827.91 774.99,829.94 777.91,832.01 780.82,834.14 783.73,836.31 786.65,838.53 789.56,840.80 792.47,843.11 795.39,845.45 798.30,847.83 801.21,850.25 804.13,852.71 807.04,855.19 809.95,857.70 812.87,860.25 815.78,862.81 818.69,865.40 821.61,868.01 824.52,870.64 827.44,873.28 830.35,875.94 833.26,878.61 836.18,881.29 839.09,883.97 842.00,886.66 844.92,889.36 847.83,892.06 850.74,894.75 853.66,897.45 856.57,900.13 859.48,902.81 862.40,905.49 865.31,908.15 868.22,910.79 871.14,913.43 874.05,916.04 876.97,918.64 879.88,921.22 882.79,923.78 885.71,926.31 888.62,928.82 891.53,931.30 894.45,933.75 897.36,936.17 900.27,938.56 903.19,940.92 906.10,943.25 909.01,945.54 911.93,947.79 914.84,950.01 917.75,952.19 920.67,954.33 923.58,956.42 926.50,958.48 929.41,960.50 932.32,962.47 935.24,964.40 938.15,966.28 941.06,968.12 943.98,969.92 946.89,971.67 949.80,973.37 952.72,975.03 955.63,976.64 958.54,978.20 961.46,979.72 964.37,981.19 967.28,982.61 970.20,983.99 973.11,985.32 976.03,986.61 978.94,987.85 981.85,989.04 984.77,990.19 987.68,991.29 990.59,992.35 993.51,993.36 996.42,994.34 999.33,995.26 1002.25,996.15 1005.16,997.00 1008.07,997.80 1010.99,998.57 1013.90,999.29 1016.81,999.98 1019.73,1000.63 1022.64,1001.25 1025.56,1001.83 1028.47,1002.37 1031.38,1002.88 1034.30,1003.36 1037.21,1003.81 1040.12,1004.23 1043.04,1004.62 1045.95,1004.98 1048.86,1005.32 1051.78,1005.63 1054.69,1005.91 1057.60,1006.18 1060.52,1006.41 1063.43,1006.63 1066.34,1006.83 1069.26,1007.01 1072.17,1007.17 1075.08,1007.31 1078.00,1007.44 1080.91,1007.56 1083.83,1007.66 1086.74,1007.74 1089.65,1007.82 1092.57,1007.89 1095.48,1007.94 1098.39,1007.99 1101.31,1008.03 1104.22,1008.06 1107.13,1008.08 1110.05,1008.10 1112.96,1008.12 1115.87,1008.13 1118.79,1008.14 1121.70,1008.14 1124.61,1008.14 1127.53,1008.14 1130.44,1008.14 1133.36,1008.14 1136.27,1008.14 1139.18,1008.13 1142.10,1008.13 1145.01,1008.13 1147.92,1008.13 1150.84,1008.13 1153.75,1008.13" fill="none" stroke="#333" stroke-width="0.85"/>
<path d="M690.50,780.16 693.41,780.21 696.33,780.36 699.24,780.62 702.15,780.99 705.07,781.45 707.98,782.02 710.89,782.68 713.81,783.45 716.72,784.32 719.64,785.29 722.55,786.36 725.46,787.52 728.38,788.78 731.29,790.13 734.20,791.58 737.12,793.12 740.03,794.74 742.94,796.46 745.86,798.26 748.77,800.15 751.68,802.11 754.60,804.16 757.51,806.29 760.42,808.49 763.34,810.77 766.25,813.11 769.17,815.53 772.08,818.01 774.99,820.56 777.91,823.17 780.82,825.83 783.73,828.55 786.65,831.33 789.56,834.15 792.47,837.02 795.39,839.94 798.30,842.90 801.21,845.89 804.13,848.93 807.04,851.99 809.95,855.09 812.87,858.21 815.78,861.36 818.69,864.53 821.61,867.71 824.52,870.91 827.44,874.12 830.35,877.35 833.26,880.57 836.18,883.80 839.09,887.04 842.00,890.26 844.92,893.49 847.83,896.70 850.74,899.91 853.66,903.10 856.57,906.28 859.48,909.43 862.40,912.57 865.31,915.68 868.22,918.77 871.14,921.82 874.05,924.85 876.97,927.84 879.88,930.80 882.79,933.72 885.71,936.60 888.62,939.44 891.53,942.24 894.45,944.99 897.36,947.69 900.27,950.35 903.19,952.95 906.10,955.51 909.01,958.01 911.93,960.46 914.84,962.85 917.75,965.19 920.67,967.47 923.58,969.69 926.50,971.85 929.41,973.96 932.32,976.00 935.24,977.98 938.15,979.90 941.06,981.76 943.98,983.55 946.89,985.29 949.80,986.96 952.72,988.57 955.63,990.12 958.54,991.60 961.46,993.02 964.37,994.39 967.28,995.69 970.20,996.93 973.11,998.11 976.03,999.23 978.94,1000.29 981.85,1001.29 984.77,1002.24 987.68,1003.13 990.59,1003.96 993.51,1004.74 996.42,1005.47 999.33,1006.15 1002.25,1006.78 1005.16,1007.35 1008.07,1007.88 1010.99,1008.36 1013.90,1008.80 1016.81,1009.19 1019.73,1009.54 1022.64,1009.85 1025.56,1010.13 1028.47,1010.36 1031.38,1010.56 1034.30,1010.72 1037.21,1010.85 1040.12,1010.95 1043.04,1011.02 1045.95,1011.06 1048.86,1011.08 1051.78,1011.07 1054.69,1011.04 1057.60,1010.99 1060.52,1010.92 1063.43,1010.83 1066.34,1010.72 1069.26,1010.60 1072.17,1010.47 1075.08,1010.33 1078.00,1010.17 1080.91,1010.01 1083.83,1009.84 1086.74,1009.67 1089.65,1009.49 1092.57,1009.31 1095.48,1009.13 1098.39,1008.95 1101.31,1008.77 1104.22,1008.60 1107.13,1008.42 1110.05,1008.26 1112.96,1008.09 1115.87,1007.94 1118.79,1007.79 1121.70,1007.65 1124.61,1007.52 1127.53,1007.40 1130.44,1007.29 1133.36,1007.20 1136.27,1007.11 1139.18,1007.04 1142.10,1006.98 1145.01,1006.93 1147.92,1006.90 1150.84,1006.88 1153.75,1006.87" fill="none" stroke="#000" stroke-width="2.6" stroke-dasharray="5.6 5.72" stroke-linecap="round"/>
<path d="M690.50,815.13 693.41,815.17 696.33,815.27 699.24,815.45 702.15,815.69 705.07,816.01 707.98,816.39 710.89,816.85 713.81,817.37 716.72,817.96 719.64,818.62 722.55,819.34 725.46,820.13 728.38,820.99 731.29,821.91 734.20,822.90 737.12,823.94 740.03,825.05 742.94,826.22 745.86,827.45 748.77,828.74 751.68,830.08 754.60,831.48 757.51,832.93 760.42,834.44 763.34,836.00 766.25,837.61 769.17,839.27 772.08,840.97 774.99,842.72 777.91,844.52 780.82,846.35 783.73,848.23 786.65,850.14 789.56,852.10 792.47,854.08 795.39,856.11 798.30,858.16 801.21,860.24 804.13,862.35 807.04,864.49 809.95,866.65 812.87,868.83 815.78,871.03 818.69,873.25 821.61,875.49 824.52,877.74 827.44,880.01 830.35,882.28 833.26,884.57 836.18,886.86 839.09,889.15 842.00,891.45 844.92,893.76 847.83,896.06 850.74,898.36 853.66,900.65 856.57,902.94 859.48,905.22 862.40,907.49 865.31,909.76 868.22,912.01 871.14,914.24 874.05,916.46 876.97,918.66 879.88,920.85 882.79,923.01 885.71,925.16 888.62,927.28 891.53,929.37 894.45,931.44 897.36,933.49 900.27,935.51 903.19,937.49 906.10,939.45 909.01,941.38 911.93,943.28 914.84,945.14 917.75,946.97 920.67,948.76 923.58,950.52 926.50,952.25 929.41,953.94 932.32,955.59 935.24,957.20 938.15,958.78 941.06,960.32 943.98,961.81 946.89,963.27 949.80,964.70 952.72,966.08 955.63,967.42 958.54,968.72 961.46,969.98 964.37,971.21 967.28,972.39 970.20,973.53 973.11,974.64 976.03,975.70 978.94,976.73 981.85,977.72 984.77,978.67 987.68,979.58 990.59,980.46 993.51,981.30 996.42,982.10 999.33,982.87 1002.25,983.60 1005.16,984.30 1008.07,984.96 1010.99,985.59 1013.90,986.19 1016.81,986.76 1019.73,987.30 1022.64,987.80 1025.56,988.28 1028.47,988.73 1031.38,989.15 1034.30,989.55 1037.21,989.92 1040.12,990.26 1043.04,990.58 1045.95,990.88 1048.86,991.15 1051.78,991.41 1054.69,991.64 1057.60,991.86 1060.52,992.05 1063.43,992.23 1066.34,992.40 1069.26,992.54 1072.17,992.68 1075.08,992.80 1078.00,992.90 1080.91,993.00 1083.83,993.08 1086.74,993.15 1089.65,993.21 1092.57,993.27 1095.48,993.32 1098.39,993.35 1101.31,993.39 1104.22,993.41 1107.13,993.44 1110.05,993.45 1112.96,993.46 1115.87,993.47 1118.79,993.48 1121.70,993.49 1124.61,993.49 1127.53,993.49 1130.44,993.49 1133.36,993.49 1136.27,993.49 1139.18,993.48 1142.10,993.48 1145.01,993.48 1147.92,993.48 1150.84,993.48 1153.75,993.48" fill="none" stroke="#000" stroke-width="2.6" stroke-dasharray="5.6 5.72" stroke-linecap="round"/>
</g>
<g transform="translate(26.6,196.25) rotate(-90)"><text x="0" y="0" font-size="28" font-style="italic">r</text><text x="11.0" y="5" font-size="19.7" font-style="italic">s</text><text x="22.2" y="0" font-size="28">(</text><text x="31.35" y="0" font-size="28" font-style="italic">u</text><text x="47.5" y="0" font-size="28">,</text><text x="61.7" y="0" font-size="28" font-style="italic">t</text><text x="70.45" y="0" font-size="28">)</text></g>
<g transform="translate(26.6,563.05) rotate(-90)"><text x="0" y="0" font-size="28" font-style="italic">r</text><text x="11.0" y="5" font-size="19.7" font-style="italic">s</text><text x="22.2" y="0" font-size="28">(</text><text x="31.35" y="0" font-size="28" font-style="italic">u</text><text x="47.5" y="0" font-size="28">,</text><text x="61.7" y="0" font-size="28" font-style="italic">t</text><text x="70.45" y="0" font-size="28">)</text></g>
<g transform="translate(26.6,931.05) rotate(-90)"><text x="0" y="0" font-size="28" font-style="italic">r</text><text x="11.0" y="5" font-size="19.7" font-style="italic">s</text><text x="22.2" y="0" font-size="28">(</text><text x="31.35" y="0" font-size="28" font-style="italic">u</text><text x="47.5" y="0" font-size="28">,</text><text x="61.7" y="0" font-size="28" font-style="italic">t</text><text x="70.45" y="0" font-size="28">)</text></g>
<text x="314.90" y="1100.60" font-size="29" font-style="italic">u</text>
<text x="914.90" y="1100.60" font-size="29" font-style="italic">u</text>
</svg>
</body></html>
